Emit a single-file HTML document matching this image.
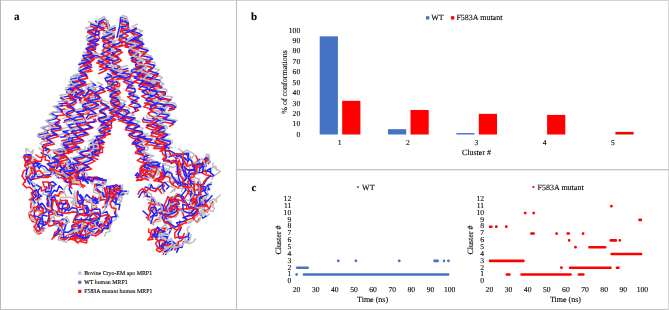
<!DOCTYPE html>
<html><head><meta charset="utf-8"><style>
html,body{margin:0;padding:0;background:#fff;width:669px;height:310px;overflow:hidden}
svg{display:block;filter:blur(0.3px)}
text{font-family:'Liberation Serif',serif;fill:#000;stroke:#000;stroke-width:0.1px;text-rendering:geometricPrecision}
</style></head><body>
<svg width="669" height="310" viewBox="0 0 669 310">
<rect width="669" height="310" fill="#fff"/>
<g fill="none" stroke-width="1.5" stroke-linejoin="round" stroke-linecap="round">
<path stroke="#bdbdbd" d="M63.2,193.6 L58.2,193.5 L57.4,195.9 L52.1,196.0 L51.5,198.7 L51.1,203.6 L47.9,204.1 L48.5,201.5"/>
<path stroke="#2323ff" d="M62.7,189.2 L59.2,185.8 L56.9,191.5 L54.2,190.3 L51.0,194.9 L52.4,199.1 L47.3,200.2 L49.8,195.7"/>
<path stroke="#ff1a1a" d="M64.1,192.3 L60.2,191.4 L58.5,196.3 L55.1,194.7 L51.0,199.9 L52.1,203.6 L47.0,203.0 L48.8,200.6"/>
<path stroke="#bdbdbd" d="M53.5,235.7 L55.1,231.7 L60.4,231.9 L64.6,230.9 L65.7,225.4 L62.0,226.8 L59.2,229.1 L56.8,233.8"/>
<path stroke="#ff1a1a" d="M52.0,239.2 L53.5,237.0 L58.8,233.9 L61.5,234.8 L62.2,229.8 L58.6,230.0 L54.6,232.8 L54.2,237.2"/>
<path stroke="#2323ff" d="M54.2,235.4 L57.6,232.9 L60.8,229.7 L64.3,229.9 L66.2,223.6 L60.6,224.0 L58.8,227.5 L57.6,230.2"/>
<path stroke="#2323ff" d="M71.6,193.6 L69.1,188.8 L70.7,186.1 L72.0,181.0 L67.9,178.4 L68.2,174.9 L70.6,173.6 L74.6,172.4"/>
<path stroke="#ff1a1a" d="M72.0,188.2 L69.0,186.4 L69.8,183.4 L71.5,177.4 L66.1,177.3 L66.3,172.0 L71.7,170.6 L74.9,168.3"/>
<path stroke="#bdbdbd" d="M66.0,195.7 L63.7,191.4 L65.2,187.3 L67.7,184.2 L65.3,178.9 L63.2,176.5 L68.1,173.3 L72.8,171.7"/>
<path stroke="#ff1a1a" d="M146.3,217.2 L149.3,219.8 L152.4,223.9 L156.1,219.4 L159.2,219.0 L160.0,215.7 L161.7,212.7 L166.5,212.0"/>
<path stroke="#2323ff" d="M143.1,211.1 L146.7,214.2 L150.3,217.6 L152.5,215.5 L156.9,215.7 L157.1,212.1 L159.4,208.9 L164.2,209.0"/>
<path stroke="#bdbdbd" d="M147.6,220.0 L150.0,221.1 L153.4,225.2 L154.3,222.3 L160.5,220.9 L158.6,217.7 L162.3,212.9 L165.4,210.6"/>
<path stroke="#bdbdbd" d="M85.1,225.5 L90.9,228.4 L94.5,231.4 L90.7,230.0 L96.0,228.6 L99.7,227.1 L101.9,223.8 L106.4,222.8"/>
<path stroke="#2323ff" d="M85.7,228.8 L88.1,231.7 L92.2,235.3 L88.0,231.4 L92.7,229.5 L97.9,228.1 L100.7,224.1 L105.0,224.0"/>
<path stroke="#ff1a1a" d="M79.7,228.4 L83.9,229.8 L86.4,233.9 L84.1,230.5 L88.8,230.0 L91.2,227.9 L95.7,225.8 L99.3,225.5"/>
<path stroke="#bdbdbd" d="M77.3,75.3 L70.6,77.2 L72.6,79.9 L78.5,81.5 L72.6,83.7 L68.0,85.3 L74.1,88.6 L76.2,91.3 L68.6,92.7 L68.6,95.8 L75.5,97.7 L72.3,99.8 L65.3,102.3 L69.4,104.4 L73.8,106.7 L67.5,109.1 L64.3,111.5 L71.1,114.1 L70.3,116.3 L62.8,118.4"/>
<path stroke="#ff1a1a" d="M79.6,79.8 L72.8,82.2 L74.7,84.0 L80.9,86.3 L75.4,88.8 L70.2,90.1 L76.4,92.9 L78.1,95.4 L70.8,97.6 L70.2,99.5 L76.7,102.1 L74.1,104.5 L66.7,106.6 L71.6,108.5 L75.5,110.9 L68.7,113.7 L66.0,115.9 L72.1,118.5 L71.6,120.2 L63.9,122.3"/>
<path stroke="#2323ff" d="M78.4,77.4 L70.8,79.4 L73.1,82.1 L78.9,84.7 L73.4,86.4 L68.8,88.1 L74.8,91.3 L76.6,93.1 L69.4,95.4 L69.6,97.7 L76.2,100.0 L73.2,102.7 L66.8,105.2 L71.4,106.7 L75.2,109.9 L68.6,111.4 L66.0,113.9 L72.5,116.4 L71.7,118.3 L64.7,120.5"/>
<path stroke="#2323ff" d="M41.1,152.9 L44.6,154.6 L47.8,155.4 L50.0,158.7 L54.8,158.9 L54.9,163.5 L56.7,168.5 L58.9,165.0"/>
<path stroke="#ff1a1a" d="M35.9,155.0 L39.6,157.5 L45.6,156.6 L45.1,160.0 L49.0,160.8 L50.2,165.3 L52.2,169.4 L54.6,166.5"/>
<path stroke="#bdbdbd" d="M39.2,147.9 L42.3,151.2 L46.2,149.8 L48.0,154.8 L50.4,154.3 L51.1,159.6 L53.9,164.1 L54.4,161.5"/>
<path stroke="#ff1a1a" d="M72.4,177.9 L73.7,173.7 L68.7,176.1 L65.2,173.1 L60.6,174.4 L57.9,173.6 L59.7,174.6 L51.4,174.0 L47.4,175.9 L49.4,176.1 L48.0,177.4 L40.5,177.6 L34.3,179.0 L30.6,179.8 L27.5,176.1 L25.1,181.2 L22.9,184.4 L26.7,187.9 L29.3,186.9 L33.0,190.1 L32.5,194.1 L33.5,196.9 L31.5,201.5 L30.7,207.1 L32.4,210.6 L29.0,213.7 L29.6,217.4 L32.4,221.6 L34.8,221.9 L40.0,222.5 L45.2,221.5"/>
<path stroke="#2323ff" d="M72.5,176.1 L74.5,172.2 L70.6,174.4 L66.0,171.0 L63.0,170.8 L60.7,171.8 L63.3,171.5 L56.6,172.0 L50.9,172.1 L55.1,173.8 L52.3,174.3 L44.6,175.2 L41.3,176.3 L37.3,176.8 L35.6,172.9 L31.7,177.0 L30.2,180.7 L33.4,186.8 L36.1,184.6 L40.8,187.6 L38.1,190.3 L38.4,196.1 L37.0,199.4 L38.8,204.9 L36.9,207.9 L34.3,211.5 L34.5,217.2 L36.7,221.0 L41.3,221.6 L46.0,222.6 L49.3,221.2"/>
<path stroke="#bdbdbd" d="M74.0,177.3 L74.4,173.2 L69.4,173.6 L67.2,171.3 L62.2,171.3 L58.6,172.3 L60.0,171.3 L53.4,171.8 L48.5,169.8 L51.6,171.0 L49.2,172.0 L43.1,172.2 L36.9,175.4 L34.6,176.9 L30.0,170.4 L29.3,174.9 L27.4,178.8 L28.0,182.8 L31.8,181.5 L35.7,184.4 L35.0,188.5 L35.4,193.8 L31.3,197.7 L34.5,202.5 L32.2,208.5 L28.8,212.4 L31.9,215.9 L32.3,218.9 L36.4,223.0 L41.5,223.1 L44.1,221.9"/>
<path stroke="#bdbdbd" d="M209.8,201.6 L205.3,198.1 L203.4,201.3 L199.1,204.1 L197.9,198.5 L201.8,196.1 L200.1,189.6 L199.0,187.2"/>
<path stroke="#2323ff" d="M205.1,201.3 L200.1,197.7 L198.9,201.7 L194.1,201.5 L192.8,198.0 L195.0,194.4 L194.6,190.5 L190.7,188.2"/>
<path stroke="#ff1a1a" d="M204.4,199.5 L201.6,196.8 L198.0,200.8 L194.6,203.0 L191.9,199.2 L193.9,195.0 L194.3,190.4 L188.9,187.1"/>
<path stroke="#bdbdbd" d="M95.7,20.4 L98.3,22.1 L103.6,24.5 L97.5,27.1 L93.6,28.4 L99.2,30.8 L100.0,33.6 L91.4,35.9 L92.5,37.9 L97.9,39.4 L93.5,42.0 L87.7,44.0 L92.9,46.1 L95.3,48.9 L88.3,50.8 L86.5,52.9 L92.5,55.2 L90.0,57.6 L83.2,59.8 L85.5,61.8 L90.0,63.8"/>
<path stroke="#ff1a1a" d="M95.2,25.1 L98.5,27.3 L102.8,29.1 L97.2,31.8 L92.9,33.0 L98.7,35.6 L99.7,38.4 L91.6,40.4 L92.8,42.4 L98.6,44.4 L94.4,46.4 L88.3,48.3 L93.5,50.0 L96.6,53.0 L88.6,55.0 L87.2,57.5 L94.3,59.5 L91.7,61.5 L85.1,63.2 L87.4,65.0 L91.9,67.5"/>
<path stroke="#2323ff" d="M95.5,21.4 L98.2,23.0 L102.6,25.1 L96.2,27.8 L93.0,29.6 L98.9,31.7 L98.9,34.6 L91.0,35.9 L92.3,38.5 L98.7,40.1 L93.7,43.0 L87.7,44.2 L92.4,47.0 L95.5,49.1 L88.5,51.4 L86.9,54.1 L94.1,56.3 L90.8,58.5 L84.2,60.6 L87.6,62.4 L91.5,65.1"/>
<path stroke="#bdbdbd" d="M153.4,160.4 L149.2,163.5 L149.6,165.6 L148.0,169.6 L149.5,167.7 L155.2,168.1 L159.6,170.5 L157.0,175.4"/>
<path stroke="#2323ff" d="M145.4,165.3 L142.4,165.6 L140.4,170.4 L139.8,174.5 L141.1,170.4 L145.5,170.1 L150.3,172.7 L149.0,177.9"/>
<path stroke="#ff1a1a" d="M145.2,164.1 L141.3,166.1 L140.0,168.8 L140.8,175.2 L142.9,170.0 L146.7,171.0 L152.1,175.2 L149.9,177.3"/>
<path stroke="#ff1a1a" d="M59.7,166.4 L62.2,168.7 L60.4,172.5 L63.7,174.1 L65.8,171.9 L65.4,168.4 L64.0,164.9 L62.2,160.7"/>
<path stroke="#2323ff" d="M66.8,160.5 L70.3,164.5 L67.9,167.8 L70.9,168.4 L74.1,167.5 L71.3,164.4 L70.0,160.8 L66.3,156.4"/>
<path stroke="#bdbdbd" d="M60.9,160.4 L65.4,163.1 L61.0,166.3 L64.5,168.7 L68.2,164.4 L67.6,162.8 L66.0,156.2 L60.9,154.7"/>
<path stroke="#2323ff" d="M90.6,67.7 L82.3,69.7 L80.7,71.9 L85.5,72.9 L82.6,75.1 L75.6,76.6 L77.0,79.3 L81.4,81.2 L74.4,82.8 L70.4,84.7 L75.2,86.4 L74.7,88.2 L66.8,90.1 L67.0,92.7 L72.5,95.1 L66.8,96.5 L60.4,97.9 L65.4,100.2 L67.5,103.0 L59.1,104.0"/>
<path stroke="#ff1a1a" d="M92.0,70.9 L84.0,72.8 L82.1,74.9 L87.6,76.7 L85.2,78.8 L77.3,80.4 L79.4,82.4 L83.4,84.2 L75.7,85.7 L72.6,87.8 L77.7,89.9 L76.2,91.3 L68.5,92.9 L68.8,95.3 L73.4,97.0 L67.8,98.6 L62.2,100.3 L66.6,102.7 L69.0,104.8 L60.4,106.2"/>
<path stroke="#bdbdbd" d="M88.5,65.9 L80.0,67.2 L78.2,69.8 L83.2,71.1 L81.0,73.0 L73.2,75.2 L76.2,76.7 L80.2,79.0 L72.3,80.1 L69.0,81.9 L73.4,84.2 L73.7,86.1 L65.7,87.7 L65.6,90.4 L70.6,91.8 L65.6,94.5 L59.9,95.3 L64.1,97.8 L67.0,100.6 L57.9,101.8"/>
<path stroke="#2323ff" d="M99.7,21.5 L107.3,24.0 L106.3,26.6 L100.2,28.2 L104.5,30.6 L110.0,32.5 L104.2,35.4 L101.5,38.4 L108.1,40.5 L109.6,42.2"/>
<path stroke="#ff1a1a" d="M101.5,23.0 L109.0,25.3 L107.3,26.9 L101.6,29.3 L105.8,32.2 L111.6,34.3 L105.9,36.4 L102.8,39.1 L109.8,40.9 L111.6,43.5"/>
<path stroke="#bdbdbd" d="M100.9,18.6 L108.2,20.8 L106.5,22.7 L101.0,25.0 L105.2,27.2 L110.4,29.4 L105.1,31.4 L102.7,33.9 L109.3,36.4 L110.7,38.4"/>
<path stroke="#bdbdbd" d="M198.3,179.3 L198.0,184.0 L199.9,187.6 L201.3,192.7 L196.9,195.3 L197.1,199.6 L203.0,200.0 L206.4,200.6"/>
<path stroke="#ff1a1a" d="M199.9,181.8 L197.7,185.4 L199.3,190.6 L200.7,194.2 L198.0,198.7 L198.0,202.2 L202.8,202.4 L205.5,201.0"/>
<path stroke="#2323ff" d="M198.1,182.0 L197.9,186.4 L198.6,191.2 L199.1,194.5 L196.7,197.9 L194.8,202.6 L200.0,202.5 L202.3,201.6"/>
<path stroke="#bdbdbd" d="M136.9,46.3 L137.4,42.7 L140.0,39.4 L138.7,35.4 L134.3,36.5 L133.2,40.4 L133.5,43.7 L134.4,48.1"/>
<path stroke="#ff1a1a" d="M134.8,52.2 L135.5,47.2 L138.5,44.4 L136.7,39.8 L132.4,40.7 L131.0,44.4 L131.1,48.1 L132.8,52.4"/>
<path stroke="#2323ff" d="M136.2,50.0 L136.9,46.3 L139.1,42.1 L138.1,38.8 L133.8,37.9 L132.5,42.2 L132.2,46.4 L133.7,50.4"/>
<path stroke="#bdbdbd" d="M101.0,139.3 L93.0,140.5 L94.1,142.9 L98.9,144.6 L92.9,146.0 L87.1,148.1 L91.7,151.0 L93.3,153.0 L85.2,154.1 L84.2,156.4 L89.3,158.7 L85.8,160.5 L78.9,162.3 L82.5,164.4 L85.9,166.9 L78.3,167.9"/>
<path stroke="#ff1a1a" d="M104.6,142.6 L96.5,143.4 L97.9,145.8 L103.6,147.5 L97.4,149.3 L91.6,151.1 L96.4,153.8 L98.0,155.1 L90.4,157.2 L89.5,158.4 L95.0,161.1 L90.7,163.2 L84.5,165.5 L88.2,166.9 L91.6,169.1 L84.1,170.7"/>
<path stroke="#2323ff" d="M102.1,140.0 L94.8,140.8 L95.1,143.0 L100.7,145.1 L95.1,146.7 L89.0,148.7 L94.0,151.1 L95.8,153.8 L88.2,155.0 L86.9,156.7 L92.7,159.0 L89.0,161.0 L81.8,163.5 L86.2,165.1 L88.9,166.8 L81.7,169.4"/>
<path stroke="#bdbdbd" d="M167.4,250.9 L170.6,248.4 L173.7,245.8 L173.2,243.3 L178.9,242.7 L177.3,247.1 L181.3,245.0 L176.5,245.3"/>
<path stroke="#2323ff" d="M165.7,254.4 L166.4,252.1 L171.7,249.9 L173.5,246.9 L178.4,247.3 L176.7,252.2 L179.3,247.0 L176.4,248.0"/>
<path stroke="#ff1a1a" d="M163.2,254.2 L165.4,248.6 L169.4,248.0 L170.9,245.4 L174.2,245.5 L175.0,250.0 L176.9,246.0 L172.6,245.8"/>
<path stroke="#ff1a1a" d="M86.9,200.7 L91.9,199.9 L93.0,195.9 L96.4,200.2 L101.3,196.3 L101.5,194.1 L96.9,190.6 L94.4,189.1 L95.0,184.1 L99.7,185.5 L103.6,181.7 L99.3,178.0 L96.6,176.9 L90.6,177.4 L87.1,179.6 L82.6,178.6 L82.2,173.8 L82.3,169.5 L77.9,172.8 L73.8,169.1 L71.1,165.6 L68.6,167.4 L63.5,165.8 L63.4,170.1 L59.2,170.1 L61.1,175.2 L64.3,177.6 L64.2,181.1 L68.6,182.5 L71.4,179.3 L68.5,178.0"/>
<path stroke="#2323ff" d="M88.4,201.8 L93.7,203.4 L95.5,197.6 L98.3,201.3 L102.7,199.2 L105.4,194.8 L101.1,192.5 L96.5,188.3 L96.9,184.1 L101.9,185.4 L105.9,182.2 L102.3,178.8 L97.7,178.0 L92.5,177.9 L89.2,177.0 L83.9,177.2 L84.3,173.0 L84.2,167.8 L79.6,171.5 L77.1,167.6 L73.7,163.9 L69.2,166.3 L66.8,163.5 L64.0,167.8 L60.2,169.8 L61.1,175.3 L66.2,177.7 L65.6,181.8 L69.5,182.6 L74.0,181.1 L69.4,178.0"/>
<path stroke="#bdbdbd" d="M86.0,202.4 L89.4,202.2 L91.5,199.3 L96.7,201.9 L99.7,199.6 L102.4,194.1 L97.9,193.6 L93.3,192.1 L95.3,187.6 L102.3,187.1 L105.6,182.7 L101.9,179.7 L98.6,180.1 L93.8,179.3 L90.6,179.5 L84.9,180.9 L87.2,174.2 L84.9,171.8 L82.4,172.9 L79.8,169.4 L78.3,165.3 L74.7,166.3 L69.2,165.3 L68.1,167.6 L64.3,171.1 L67.1,175.4 L70.4,176.6 L72.2,180.8 L74.7,181.5 L79.5,178.7 L74.4,177.5"/>
<path stroke="#ff1a1a" d="M159.0,166.6 L156.4,171.0 L160.5,172.0 L161.0,174.6 L162.7,177.8 L164.8,175.2 L161.4,173.1 L162.3,167.0"/>
<path stroke="#2323ff" d="M160.1,163.0 L157.2,166.6 L161.8,167.5 L162.7,171.3 L163.3,175.3 L167.6,171.9 L162.7,169.9 L163.5,164.7"/>
<path stroke="#bdbdbd" d="M163.8,165.3 L161.8,168.6 L166.8,168.5 L167.0,172.8 L171.4,177.7 L172.7,174.0 L168.7,170.2 L169.9,166.5"/>
<path stroke="#bdbdbd" d="M92.1,116.3 L92.7,117.9 L84.5,119.8 L83.7,122.1 L88.7,124.5 L85.4,125.6 L76.8,127.6 L80.7,129.8 L83.7,132.0 L76.1,133.4 L73.4,135.3 L79.0,138.0 L76.5,140.1 L68.3,141.7 L70.7,144.2 L74.6,146.1 L68.6,148.1 L62.6,149.9"/>
<path stroke="#ff1a1a" d="M95.4,119.3 L96.1,121.5 L88.3,123.1 L88.1,125.0 L93.1,127.7 L89.3,129.0 L81.5,130.4 L85.9,132.4 L88.7,134.5 L81.3,136.4 L78.0,138.4 L83.8,141.0 L82.2,142.5 L73.7,144.4 L75.7,146.9 L80.4,149.0 L73.6,150.2 L67.5,152.3"/>
<path stroke="#2323ff" d="M94.0,119.3 L94.2,122.0 L86.8,122.6 L85.8,124.3 L91.6,127.3 L87.9,128.4 L80.0,130.4 L84.5,132.3 L87.1,133.5 L79.6,135.1 L76.8,137.3 L82.5,140.0 L80.6,140.9 L72.6,142.8 L74.6,145.1 L79.4,147.2 L73.4,148.1 L67.2,150.8"/>
<path stroke="#ff1a1a" d="M91.4,42.8 L95.9,30.8 L99.0,24.5 L103.3,21.5 L107.7,26.6 L108.9,33.8 L105.5,38.3 L110.0,44.6"/>
<path stroke="#2323ff" d="M92.8,39.9 L97.0,27.8 L100.1,21.3 L104.9,18.8 L108.5,23.7 L109.5,30.8 L106.6,36.2 L111.5,41.4"/>
<path stroke="#bdbdbd" d="M91.6,37.5 L95.4,26.1 L99.2,19.4 L104.0,16.5 L107.7,22.0 L108.9,28.7 L105.9,33.9 L110.2,39.6"/>
<path stroke="#bdbdbd" d="M111.5,112.3 L114.9,115.1 L108.0,115.9 L104.6,118.9 L111.0,121.1 L110.5,123.7 L101.9,124.1 L103.7,127.3 L108.7,129.4 L103.6,131.2 L98.1,132.6"/>
<path stroke="#2323ff" d="M111.1,113.5 L115.3,115.8 L108.4,117.5 L105.2,119.8 L111.9,121.7 L110.9,124.9 L102.9,126.1 L105.4,128.5 L110.5,130.7 L105.3,133.1 L100.3,134.3"/>
<path stroke="#ff1a1a" d="M112.0,117.5 L115.9,119.7 L109.2,121.7 L105.7,123.1 L111.6,125.8 L111.5,128.1 L103.8,129.1 L105.2,132.2 L110.6,134.0 L105.7,135.4 L100.3,137.8"/>
<path stroke="#2323ff" d="M96.1,147.2 L92.5,145.3 L89.8,148.9 L92.0,152.6 L96.2,152.0 L96.1,147.7 L93.9,143.6 L95.5,139.4"/>
<path stroke="#ff1a1a" d="M98.4,149.0 L95.0,148.3 L92.9,151.7 L95.0,154.7 L99.0,153.9 L98.4,149.7 L97.0,146.3 L98.3,141.9"/>
<path stroke="#bdbdbd" d="M94.0,146.3 L90.7,144.5 L88.8,147.9 L90.6,151.3 L94.4,150.5 L93.9,146.4 L91.9,142.5 L93.0,138.2"/>
<path stroke="#bdbdbd" d="M60.1,199.1 L62.5,203.4 L59.3,203.6 L58.7,208.5 L57.3,212.6 L54.4,210.5 L51.0,209.1 L46.0,211.0"/>
<path stroke="#2323ff" d="M65.8,200.2 L66.0,203.6 L62.8,205.1 L61.5,211.8 L62.7,215.8 L58.3,214.5 L52.9,212.1 L49.5,211.9"/>
<path stroke="#ff1a1a" d="M60.5,199.7 L61.6,203.8 L58.7,203.8 L59.1,209.3 L57.6,212.5 L55.5,211.2 L50.3,211.4 L46.7,208.8"/>
<path stroke="#2323ff" d="M163.0,246.8 L169.3,244.9 L172.7,246.7 L177.0,246.6 L182.0,247.5 L183.5,241.7 L187.1,242.6 L189.1,237.5"/>
<path stroke="#ff1a1a" d="M162.4,243.9 L165.5,243.8 L169.5,247.0 L172.2,245.8 L177.7,245.8 L178.3,241.7 L181.1,240.8 L183.0,238.7"/>
<path stroke="#bdbdbd" d="M165.4,247.4 L170.6,245.0 L175.5,246.9 L178.7,246.8 L182.4,245.6 L184.6,241.1 L189.5,241.1 L191.1,234.7"/>
<path stroke="#ff1a1a" d="M80.4,202.8 L84.8,199.3 L89.6,202.3 L93.9,203.4 L96.8,207.7 L92.1,209.6 L91.8,205.1 L96.6,205.4"/>
<path stroke="#2323ff" d="M84.7,197.7 L86.7,194.6 L90.0,197.9 L93.6,199.1 L98.2,203.1 L93.2,203.4 L92.9,198.9 L97.5,201.3"/>
<path stroke="#bdbdbd" d="M81.5,197.9 L83.9,197.4 L86.8,199.8 L93.4,203.6 L96.6,206.4 L92.2,207.8 L92.1,203.3 L95.9,206.2"/>
<path stroke="#bdbdbd" d="M72.5,230.0 L74.6,234.8 L78.1,237.4 L81.5,238.2 L77.0,237.6 L75.1,233.3 L78.7,230.3 L81.8,227.9"/>
<path stroke="#ff1a1a" d="M67.0,235.8 L71.0,239.1 L74.6,240.4 L78.5,242.9 L74.3,240.2 L74.0,237.6 L76.0,234.4 L80.9,232.6"/>
<path stroke="#2323ff" d="M73.7,233.0 L77.8,236.2 L82.6,238.2 L85.1,240.5 L80.8,237.1 L80.1,232.8 L82.7,229.5 L86.8,226.5"/>
<path stroke="#bdbdbd" d="M75.8,234.8 L74.6,230.5 L74.7,227.1 L77.5,224.8 L82.3,226.9 L84.0,228.7 L79.1,233.9 L77.8,235.4 L79.6,240.4 L83.8,238.4 L88.2,237.3 L88.5,232.4 L88.8,228.8 L92.8,231.3 L98.2,234.7 L99.7,230.7 L100.0,227.6 L103.2,225.3 L108.6,228.6 L110.1,226.7 L108.4,223.3 L104.9,220.6 L108.1,219.5 L106.5,214.6 L100.8,216.3 L99.0,212.3 L94.6,211.9 L89.0,212.2 L88.2,210.1 L82.8,210.1 L84.0,204.6"/>
<path stroke="#2323ff" d="M73.7,234.1 L72.3,229.7 L71.8,225.7 L75.7,223.5 L79.2,225.3 L81.5,229.1 L78.6,231.9 L75.0,235.4 L77.7,238.2 L82.5,237.9 L85.5,237.6 L85.7,232.5 L86.9,228.1 L90.8,230.8 L95.6,233.8 L98.6,230.0 L99.5,224.6 L103.0,224.8 L107.4,226.3 L110.4,223.9 L109.8,220.0 L105.2,218.7 L108.8,216.2 L106.7,211.6 L100.5,214.0 L99.7,209.3 L94.9,209.3 L89.5,210.9 L86.9,205.6 L83.1,206.0 L82.1,201.5"/>
<path stroke="#ff1a1a" d="M73.2,237.6 L71.7,232.7 L72.7,227.1 L76.5,226.1 L80.9,227.5 L81.4,231.6 L79.9,234.6 L75.1,238.5 L77.1,242.7 L82.6,239.8 L86.2,240.1 L87.1,235.6 L89.5,232.4 L91.5,234.2 L95.6,236.2 L100.2,233.0 L99.0,229.1 L102.2,226.2 L107.4,229.0 L109.9,227.0 L108.8,222.1 L104.7,222.0 L108.3,218.4 L106.8,214.7 L101.0,216.4 L98.5,212.9 L93.4,213.3 L90.4,210.9 L86.1,207.5 L83.0,207.7 L83.0,204.0"/>
<path stroke="#bdbdbd" d="M177.5,247.2 L173.6,247.9 L170.2,246.2 L166.2,249.1 L163.7,246.2 L161.4,251.9 L166.0,253.4 L170.3,250.1"/>
<path stroke="#2323ff" d="M176.1,244.5 L172.5,241.2 L168.6,241.6 L166.5,244.9 L162.4,243.1 L163.7,248.5 L165.1,251.6 L169.4,248.3"/>
<path stroke="#ff1a1a" d="M170.7,247.4 L168.8,246.3 L162.5,243.7 L162.2,248.7 L158.0,247.2 L156.3,250.2 L159.9,252.0 L163.7,249.1"/>
<path stroke="#bdbdbd" d="M90.5,80.8 L93.4,83.1 L85.9,85.0 L85.3,86.9 L91.7,89.5 L89.0,91.8 L82.2,93.9 L85.4,96.5 L89.6,98.2 L83.4,100.9 L79.5,103.1 L86.5,105.2 L86.1,107.9 L78.3,109.6"/>
<path stroke="#2323ff" d="M93.0,83.8 L95.8,85.1 L88.1,87.4 L87.4,88.8 L93.5,91.9 L90.8,93.8 L84.4,95.9 L88.0,98.6 L92.1,100.8 L86.3,102.5 L82.8,105.3 L88.6,106.7 L88.6,109.6 L81.7,111.6"/>
<path stroke="#ff1a1a" d="M93.4,87.4 L95.8,89.8 L88.3,91.2 L87.4,93.4 L94.1,96.0 L91.4,98.1 L84.2,99.8 L87.9,101.9 L93.0,104.7 L86.2,106.8 L82.9,109.1 L89.0,110.7 L88.9,113.5 L80.7,115.2"/>
<path stroke="#bdbdbd" d="M90.5,95.7 L85.3,97.0 L89.6,99.0 L90.6,101.0 L82.0,103.0 L81.5,104.2 L86.7,106.8 L82.0,108.4 L75.5,109.7 L78.6,111.9 L81.2,113.6 L73.6,115.4 L70.9,117.1 L76.4,118.6 L74.2,120.7 L66.0,122.1 L67.0,124.7 L71.4,126.1 L65.2,128.0 L60.3,129.1 L64.7,131.7 L65.2,133.6 L57.1,135.5"/>
<path stroke="#ff1a1a" d="M91.7,100.1 L86.7,101.2 L91.9,103.2 L92.7,105.2 L84.5,107.3 L84.4,108.5 L89.1,111.0 L84.8,113.4 L77.7,114.6 L82.2,116.0 L84.8,118.8 L76.8,120.1 L74.2,122.2 L80.3,124.4 L77.7,126.5 L70.1,127.9 L72.1,130.4 L76.1,132.1 L70.0,133.7 L64.5,135.4 L69.7,137.5 L70.1,139.3 L61.7,140.8"/>
<path stroke="#2323ff" d="M91.1,97.9 L85.3,98.8 L90.4,100.9 L91.1,102.9 L83.3,104.5 L82.5,106.5 L87.6,108.4 L83.7,110.7 L76.3,112.0 L80.3,113.9 L83.1,116.4 L75.4,117.3 L72.6,119.2 L78.2,121.6 L77.0,123.2 L68.2,124.9 L70.0,127.3 L74.4,128.8 L68.4,130.6 L62.9,131.7 L68.4,133.5 L69.2,136.3 L60.6,137.2"/>
<path stroke="#ff1a1a" d="M167.7,216.2 L164.5,212.3 L168.0,209.3 L172.5,208.7 L173.1,203.3 L176.3,203.7 L175.5,208.4 L170.8,211.1"/>
<path stroke="#2323ff" d="M167.1,216.1 L165.3,213.7 L167.2,209.3 L170.1,207.7 L171.7,204.8 L175.5,206.8 L174.2,209.6 L169.3,212.1"/>
<path stroke="#bdbdbd" d="M168.8,222.5 L166.6,218.4 L168.3,214.9 L173.7,213.7 L175.2,211.1 L179.1,209.1 L177.7,215.0 L175.3,217.7"/>
<path stroke="#bdbdbd" d="M211.8,182.1 L208.3,184.2 L208.9,189.0 L203.5,188.8 L197.9,191.0 L197.7,186.9 L200.2,183.4 L202.5,187.9"/>
<path stroke="#ff1a1a" d="M204.3,183.8 L199.7,185.6 L202.3,189.4 L196.5,189.7 L193.3,191.9 L194.0,187.1 L195.3,183.1 L198.4,186.3"/>
<path stroke="#2323ff" d="M211.3,184.3 L207.1,185.4 L209.6,189.6 L204.3,190.2 L200.1,192.1 L199.5,187.6 L199.3,183.4 L203.7,188.7"/>
<path stroke="#bdbdbd" d="M121.2,36.6 L119.8,39.5 L113.0,41.1 L115.4,43.3 L121.6,45.7 L116.2,48.4 L111.9,50.3 L118.2,52.9 L120.0,54.8 L112.2,57.6 L113.2,59.0 L119.7,61.5 L116.7,64.4 L110.9,66.8 L116.1,68.7 L120.1,71.6 L113.8,73.2 L111.7,75.5 L118.1,78.1 L118.0,80.8 L110.7,83.2 L113.6,85.1 L119.3,87.6 L114.0,89.8 L109.8,92.8 L116.3,95.4 L118.9,97.3 L111.0,99.2 L112.1,101.5 L118.9,104.4 L115.3,106.5 L109.4,108.7 L114.5,111.1 L119.2,113.5"/>
<path stroke="#2323ff" d="M120.8,40.4 L119.1,43.2 L112.8,45.4 L115.1,48.2 L120.8,50.2 L115.5,52.1 L111.5,54.6 L117.9,57.0 L119.5,58.9 L112.4,62.3 L113.2,64.1 L120.0,66.7 L116.6,68.8 L110.3,70.5 L116.0,73.2 L119.8,75.7 L113.6,77.5 L111.2,79.6 L117.8,82.3 L117.4,84.7 L110.9,86.9 L113.7,88.5 L119.6,90.9 L113.7,92.5 L110.2,94.8 L116.2,98.0 L118.6,99.5 L110.3,101.3 L112.1,103.4 L118.6,106.5 L115.2,108.5 L109.0,110.3 L114.9,112.5 L118.5,114.9"/>
<path stroke="#ff1a1a" d="M122.4,43.0 L121.5,45.3 L114.3,47.5 L116.8,50.3 L122.5,52.4 L117.8,54.7 L114.1,56.6 L120.1,59.2 L121.1,60.7 L114.1,63.8 L114.6,65.7 L121.7,68.0 L118.6,70.4 L112.2,72.9 L117.3,75.6 L122.0,77.9 L114.8,79.8 L113.3,81.6 L119.7,83.4 L119.5,86.1 L112.1,88.3 L115.1,90.2 L120.7,92.6 L114.8,94.6 L111.5,96.7 L117.2,99.8 L119.5,101.2 L110.7,103.2 L112.1,105.3 L118.4,107.9 L115.5,110.5 L109.8,113.0 L114.9,115.0 L118.6,117.8"/>
<path stroke="#bdbdbd" d="M118.1,36.2 L120.3,23.3 L122.2,15.4 L126.8,16.8 L127.8,24.3 L122.6,28.8 L129.1,27.5 L135.5,33.6 L137.5,42.7"/>
<path stroke="#ff1a1a" d="M119.1,39.7 L121.7,26.5 L122.2,19.2 L127.2,20.5 L128.3,27.7 L123.4,32.8 L130.1,31.7 L136.3,37.3 L138.1,47.0"/>
<path stroke="#2323ff" d="M116.9,37.5 L120.0,25.1 L120.5,17.5 L125.7,18.7 L126.6,25.4 L122.3,30.9 L128.6,29.5 L135.0,35.0 L136.6,45.3"/>
<path stroke="#bdbdbd" d="M153.2,178.7 L148.8,177.5 L144.9,179.2 L141.7,178.8 L146.2,176.9 L142.4,174.8 L142.0,178.6 L146.7,180.1"/>
<path stroke="#2323ff" d="M147.8,177.3 L144.1,175.3 L139.9,176.9 L136.3,177.6 L139.2,175.3 L137.5,172.9 L135.3,175.2 L139.2,175.9"/>
<path stroke="#ff1a1a" d="M148.7,180.1 L144.1,178.3 L141.9,180.2 L137.9,180.0 L142.3,179.2 L139.9,174.7 L136.7,180.7 L141.3,179.6"/>
<path stroke="#bdbdbd" d="M76.7,94.5 L79.9,90.8 L83.5,93.3 L85.4,89.9 L88.4,86.1 L92.6,87.2 L94.9,90.8 L93.3,94.7"/>
<path stroke="#2323ff" d="M78.3,96.8 L81.2,94.1 L84.8,96.3 L87.1,92.9 L89.7,89.8 L93.9,89.8 L96.0,93.3 L95.1,97.9"/>
<path stroke="#ff1a1a" d="M80.2,99.8 L83.0,97.0 L86.4,99.4 L89.0,96.4 L91.6,93.2 L95.7,93.0 L97.9,97.0 L96.5,101.6"/>
<path stroke="#bdbdbd" d="M175.0,208.5 L174.2,211.1 L172.8,217.1 L168.1,213.8 L165.6,216.8 L161.2,218.4 L165.3,220.7 L170.0,217.2"/>
<path stroke="#2323ff" d="M177.1,202.3 L174.8,206.9 L174.7,212.7 L171.6,211.6 L168.1,214.7 L163.9,216.1 L166.6,218.9 L172.3,216.8"/>
<path stroke="#ff1a1a" d="M170.5,202.2 L171.1,206.7 L171.6,210.6 L165.9,209.9 L162.1,211.4 L159.7,213.8 L163.0,214.7 L167.4,213.8"/>
<path stroke="#bdbdbd" d="M177.5,209.5 L175.8,204.9 L172.3,201.1 L169.3,205.3 L167.6,208.6 L168.6,213.2 L171.5,216.0 L167.3,219.4"/>
<path stroke="#2323ff" d="M174.5,206.4 L173.8,201.6 L169.2,199.1 L168.6,203.4 L166.1,207.3 L166.6,210.9 L168.9,213.8 L166.4,216.8"/>
<path stroke="#ff1a1a" d="M172.9,204.3 L170.6,199.4 L167.9,196.5 L166.5,200.4 L164.4,205.0 L165.3,207.6 L166.7,212.7 L164.2,214.9"/>
<path stroke="#ff1a1a" d="M64.9,108.9 L57.9,110.2 L62.5,112.7 L64.7,114.9 L56.5,115.7 L53.8,117.4 L60.3,120.2 L57.6,122.0 L49.6,124.2 L51.8,126.0 L56.3,128.3 L49.6,129.9 L45.1,131.3 L49.5,134.1 L50.6,135.3 L42.3,137.0 L41.8,138.9 L47.2,141.3"/>
<path stroke="#2323ff" d="M62.4,105.3 L55.5,106.4 L60.0,108.9 L62.4,111.2 L54.0,112.2 L51.4,113.8 L57.3,116.4 L55.0,118.9 L46.7,120.8 L48.8,122.5 L53.1,124.6 L46.4,126.6 L41.7,127.7 L46.4,130.3 L47.7,132.7 L38.7,134.9 L38.3,136.5 L44.0,138.2"/>
<path stroke="#bdbdbd" d="M60.3,104.8 L53.0,106.4 L57.0,108.6 L59.9,111.3 L51.9,112.3 L49.1,114.3 L55.2,116.7 L53.4,118.4 L45.7,120.6 L47.6,122.2 L52.3,124.3 L45.4,126.5 L40.8,127.7 L45.9,130.7 L46.7,131.9 L38.2,133.5 L37.6,135.6 L43.0,137.9"/>
<path stroke="#bdbdbd" d="M163.2,239.7 L168.0,241.5 L164.4,244.7 L164.3,247.4 L169.9,247.0 L168.6,244.7 L173.1,245.7 L176.0,244.4"/>
<path stroke="#ff1a1a" d="M155.9,237.7 L158.1,240.8 L155.6,243.3 L158.2,248.4 L161.5,247.9 L162.4,243.6 L167.0,245.1 L171.3,244.4"/>
<path stroke="#2323ff" d="M159.1,235.9 L162.3,238.1 L159.0,240.8 L159.6,246.3 L164.5,244.5 L164.4,241.2 L167.8,242.6 L172.7,244.6"/>
<path stroke="#bdbdbd" d="M129.4,113.2 L125.2,115.6 L129.0,116.7 L135.4,119.0 L130.3,120.8 L128.0,123.2 L135.4,125.1 L137.5,127.1 L130.9,129.8 L133.5,131.5 L141.1,133.6 L137.8,135.8 L134.2,138.7 L141.1,140.1 L144.4,142.0 L138.7,144.7 L139.5,147.3"/>
<path stroke="#ff1a1a" d="M125.7,119.3 L121.1,121.3 L125.9,122.8 L131.7,124.7 L127.4,127.0 L125.3,129.8 L133.2,131.3 L134.4,133.3 L128.5,135.3 L131.9,137.8 L139.3,140.3 L135.3,142.0 L132.0,144.0 L138.9,145.2 L142.6,147.7 L137.1,150.2 L137.3,152.5"/>
<path stroke="#2323ff" d="M127.2,116.9 L122.2,119.8 L127.2,120.9 L133.0,122.8 L127.8,125.8 L126.2,127.6 L134.0,129.5 L135.7,131.9 L129.4,133.8 L132.6,135.9 L140.3,137.2 L136.2,139.4 L132.8,142.7 L140.0,143.8 L143.5,145.9 L138.0,148.6 L138.3,150.3"/>
<path stroke="#ff1a1a" d="M148.5,203.0 L151.8,203.2 L156.5,204.5 L161.1,205.8 L161.5,210.0 L160.9,213.5 L157.5,212.6 L152.9,209.6"/>
<path stroke="#2323ff" d="M151.2,202.3 L154.3,201.7 L159.8,203.9 L162.8,205.0 L163.8,210.0 L163.5,213.8 L158.1,211.8 L155.6,209.1"/>
<path stroke="#bdbdbd" d="M147.3,199.2 L152.5,201.7 L154.8,202.3 L159.5,202.6 L162.3,209.0 L160.5,211.6 L155.6,211.5 L152.0,208.6"/>
<path stroke="#bdbdbd" d="M71.1,236.0 L75.1,234.0 L77.6,231.5 L78.6,235.8 L81.3,234.7 L82.9,238.5 L87.8,238.2 L88.7,236.0"/>
<path stroke="#2323ff" d="M70.3,237.3 L74.7,235.2 L76.2,232.7 L78.1,236.2 L83.5,235.1 L82.6,238.7 L87.4,237.4 L90.1,235.0"/>
<path stroke="#ff1a1a" d="M68.0,240.1 L72.7,238.6 L74.7,235.9 L75.6,239.1 L81.1,237.8 L80.4,241.6 L86.6,242.9 L87.0,239.8"/>
<path stroke="#bdbdbd" d="M180.7,176.7 L187.3,179.0 L187.3,183.4 L188.3,186.5 L186.3,188.6 L179.7,188.2 L176.5,186.6 L174.1,191.3"/>
<path stroke="#ff1a1a" d="M176.0,171.8 L179.6,171.6 L181.7,177.8 L185.3,180.3 L181.0,183.0 L176.6,183.3 L174.7,181.2 L172.9,184.9"/>
<path stroke="#2323ff" d="M180.9,170.8 L183.4,170.2 L184.4,174.8 L186.6,178.2 L182.4,182.3 L178.0,182.6 L173.9,179.7 L171.9,184.8"/>
<path stroke="#2323ff" d="M116.5,196.1 L119.6,195.0 L119.5,191.2 L120.0,185.3 L120.2,191.2 L121.1,194.0 L117.7,196.0 L113.8,196.0"/>
<path stroke="#ff1a1a" d="M112.2,197.5 L117.0,197.9 L117.3,191.8 L118.5,188.5 L116.8,192.7 L118.4,197.8 L113.0,199.6 L109.4,201.7"/>
<path stroke="#bdbdbd" d="M116.4,193.2 L122.1,194.0 L122.4,190.5 L122.5,184.8 L119.5,190.6 L120.9,195.8 L117.4,198.4 L111.3,199.0"/>
<path stroke="#bdbdbd" d="M45.5,228.8 L39.7,230.3 L39.1,225.8 L36.2,221.2 L40.2,221.8 L37.7,218.2 L39.2,213.9 L41.2,217.2"/>
<path stroke="#ff1a1a" d="M41.3,233.1 L37.9,234.0 L36.3,230.5 L35.0,226.7 L37.3,227.0 L36.5,222.8 L37.4,218.9 L40.6,219.6"/>
<path stroke="#2323ff" d="M43.3,230.3 L39.8,231.5 L39.5,228.0 L38.1,223.0 L43.4,224.4 L42.2,217.8 L42.1,215.0 L47.0,216.1"/>
<path stroke="#bdbdbd" d="M148.5,177.5 L151.5,173.0 L154.6,177.1 L155.7,179.8 L160.2,177.4 L159.0,173.5 L156.2,168.3 L162.0,167.7"/>
<path stroke="#2323ff" d="M144.8,175.2 L146.6,170.8 L148.8,173.6 L153.3,177.2 L155.9,172.9 L153.5,168.7 L154.0,164.2 L157.7,164.8"/>
<path stroke="#ff1a1a" d="M144.2,174.5 L147.3,169.9 L148.7,173.7 L153.2,177.9 L154.8,173.2 L153.7,169.6 L151.2,166.4 L154.8,166.2"/>
<path stroke="#ff1a1a" d="M160.9,228.7 L165.3,227.9 L163.9,231.4 L159.6,231.2 L154.6,229.1 L152.9,234.4 L148.7,232.1 L148.9,228.9"/>
<path stroke="#2323ff" d="M167.3,229.8 L171.7,227.8 L168.9,234.0 L166.5,234.6 L162.1,232.0 L159.4,234.7 L155.5,233.8 L154.8,230.5"/>
<path stroke="#bdbdbd" d="M165.3,234.1 L168.7,233.4 L168.3,237.6 L162.2,237.9 L158.8,234.3 L158.1,238.5 L155.3,237.0 L153.1,231.9"/>
<path stroke="#bdbdbd" d="M143.1,43.0 L137.6,45.0 L140.0,47.5 L147.4,48.3 L145.3,50.9 L140.7,53.1 L148.0,54.9 L151.9,56.3 L146.5,58.6 L146.9,60.9 L154.9,62.6 L154.3,64.5 L148.5,66.8 L153.7,68.3 L159.5,69.9 L154.5,72.9 L153.6,75.0 L160.9,76.6 L162.3,77.9 L156.8,81.3"/>
<path stroke="#2323ff" d="M143.9,44.3 L138.2,46.4 L141.0,48.5 L148.3,50.4 L145.8,52.4 L141.5,55.5 L149.0,57.2 L152.6,59.0 L146.1,61.3 L146.7,63.3 L154.9,65.4 L153.5,67.3 L148.2,70.5 L152.7,72.0 L158.4,73.8 L153.3,76.0 L151.7,78.5 L159.2,80.2 L160.9,82.0 L155.3,84.4"/>
<path stroke="#ff1a1a" d="M142.4,46.6 L136.7,48.5 L139.7,51.2 L146.3,52.5 L143.3,54.9 L139.6,58.1 L146.5,59.9 L150.4,61.5 L144.4,64.0 L144.4,65.6 L152.3,67.6 L151.8,69.6 L146.1,72.8 L151.2,73.7 L157.8,75.9 L152.4,78.8 L150.8,81.1 L158.7,82.8 L159.5,85.1 L154.7,86.9"/>
<path stroke="#bdbdbd" d="M94.6,232.5 L91.6,233.9 L86.0,234.6 L87.1,228.4 L88.8,224.2 L94.3,223.7 L93.0,220.6 L96.4,214.7"/>
<path stroke="#ff1a1a" d="M89.1,233.5 L85.1,234.4 L80.9,235.2 L80.4,231.3 L83.3,226.0 L87.1,225.4 L88.6,222.3 L90.3,217.9"/>
<path stroke="#2323ff" d="M88.8,237.4 L84.6,238.2 L79.5,236.1 L81.4,232.7 L83.6,228.0 L87.0,227.6 L88.9,221.9 L89.9,218.2"/>
<path stroke="#bdbdbd" d="M181.4,191.5 L183.4,186.7 L186.2,189.7 L190.3,190.1 L189.6,193.1 L194.2,196.5 L194.9,199.6 L199.3,197.1"/>
<path stroke="#2323ff" d="M177.7,184.7 L179.0,183.0 L184.0,183.8 L187.7,184.5 L187.0,190.5 L191.3,191.9 L193.5,195.1 L197.1,194.7"/>
<path stroke="#ff1a1a" d="M178.0,188.5 L179.6,185.4 L184.1,185.7 L187.3,188.0 L188.6,193.9 L192.8,195.1 L193.7,199.5 L197.8,199.2"/>
<path stroke="#bdbdbd" d="M201.7,159.3 L205.1,159.7 L205.5,157.7 L206.6,154.0 L209.6,157.0 L208.6,154.3 L205.1,157.5 L205.1,161.1"/>
<path stroke="#2323ff" d="M197.2,161.0 L201.6,165.4 L203.7,160.5 L206.0,157.7 L209.8,162.1 L208.3,157.5 L203.7,160.6 L206.2,166.2"/>
<path stroke="#ff1a1a" d="M197.1,165.4 L200.4,168.3 L204.1,163.8 L206.6,161.2 L208.6,163.7 L206.8,158.8 L203.2,162.9 L202.5,165.7"/>
<path stroke="#bdbdbd" d="M113.4,50.0 L111.5,53.6 L108.1,56.3 L104.2,54.4 L100.1,54.8 L96.4,53.3 L91.8,53.2 L88.8,56.1"/>
<path stroke="#2323ff" d="M113.4,52.5 L111.7,56.4 L108.2,58.7 L104.9,57.2 L100.6,57.2 L96.5,55.5 L92.5,56.0 L89.3,59.1"/>
<path stroke="#ff1a1a" d="M115.0,53.7 L113.2,57.5 L110.0,60.1 L106.4,58.9 L102.0,59.0 L97.9,57.6 L93.8,58.1 L91.1,60.8"/>
<path stroke="#bdbdbd" d="M127.2,65.5 L120.8,67.5 L122.5,69.7 L130.4,72.2 L127.7,74.1 L122.4,76.0 L128.4,78.9 L132.5,80.4 L126.6,82.9 L126.7,84.7 L134.2,86.4 L133.7,88.7 L127.9,91.4 L131.5,93.7 L137.4,95.4 L133.4,97.1 L130.0,99.8 L136.9,102.1 L139.7,104.3 L133.9,106.4 L135.4,109.1"/>
<path stroke="#ff1a1a" d="M128.1,70.5 L122.2,72.9 L123.4,74.6 L130.8,77.1 L128.6,79.3 L123.4,81.9 L128.9,84.0 L132.7,85.7 L127.0,88.5 L125.9,90.4 L133.7,92.8 L133.9,95.2 L127.5,96.7 L130.8,99.1 L137.2,101.3 L132.5,103.5 L128.9,105.6 L136.6,108.5 L138.7,110.4 L132.3,112.6 L133.5,115.4"/>
<path stroke="#2323ff" d="M127.9,68.4 L121.8,70.2 L124.5,73.0 L131.4,74.8 L128.8,76.9 L123.7,79.5 L129.1,81.5 L133.8,82.9 L128.7,85.5 L127.3,87.5 L134.9,88.8 L135.2,91.8 L128.8,93.8 L133.0,96.0 L139.1,97.8 L134.3,100.3 L131.1,102.1 L138.5,104.4 L141.0,106.7 L134.3,107.8 L136.0,111.1"/>
<path stroke="#ff1a1a" d="M204.8,211.4 L208.9,208.9 L207.2,212.2 L202.8,208.1 L206.8,204.8 L209.1,209.6 L211.2,204.1 L212.9,201.6"/>
<path stroke="#2323ff" d="M202.3,205.3 L205.5,202.9 L203.5,206.5 L201.9,202.5 L204.3,199.1 L206.6,201.7 L210.2,198.0 L211.9,195.7"/>
<path stroke="#bdbdbd" d="M211.4,205.3 L213.9,202.9 L212.8,207.2 L209.1,201.9 L214.0,198.8 L216.6,201.9 L216.1,198.7 L220.2,195.0"/>
<path stroke="#bdbdbd" d="M206.6,198.0 L203.3,198.8 L200.3,202.3 L201.2,204.4 L202.1,209.2 L201.8,212.3 L206.5,216.4 L209.3,213.9"/>
<path stroke="#ff1a1a" d="M197.6,203.4 L192.2,203.0 L190.6,207.8 L188.8,211.9 L192.0,213.3 L192.7,218.2 L197.3,222.1 L199.4,218.4"/>
<path stroke="#2323ff" d="M201.0,197.1 L198.3,197.3 L195.6,201.9 L196.2,206.0 L197.0,210.1 L200.1,213.4 L202.8,218.1 L206.2,216.2"/>
<path stroke="#bdbdbd" d="M105.8,184.2 L102.3,184.7 L98.3,181.5 L94.7,179.5 L92.4,184.3 L90.1,181.4 L84.4,179.3 L80.8,180.4"/>
<path stroke="#ff1a1a" d="M106.1,180.4 L101.0,180.1 L96.3,179.2 L92.2,177.9 L91.2,181.3 L88.1,178.4 L83.8,178.0 L80.0,179.4"/>
<path stroke="#2323ff" d="M106.3,180.1 L102.0,180.2 L97.0,178.3 L94.5,177.9 L92.2,181.7 L89.8,179.9 L85.0,179.1 L82.6,181.0"/>
<path stroke="#bdbdbd" d="M199.7,168.6 L195.2,166.8 L192.5,166.9 L188.9,164.0 L189.6,168.8 L193.6,175.1 L195.7,178.3 L199.5,178.9 L199.4,185.0 L199.5,188.8 L200.8,193.6 L197.9,198.3 L199.0,204.3 L198.3,208.0 L193.2,210.3 L188.9,210.1 L189.2,215.1 L194.4,216.7 L197.2,217.0 L198.3,213.1 L203.2,209.0 L204.3,205.6 L202.8,201.6 L204.8,197.7 L208.6,195.1 L207.0,190.6 L205.4,186.8 L200.8,186.3"/>
<path stroke="#ff1a1a" d="M196.8,173.1 L194.4,170.1 L188.9,170.6 L184.8,167.7 L185.5,172.7 L188.1,176.8 L189.7,181.2 L194.1,181.7 L193.8,185.4 L194.3,189.3 L193.4,195.2 L191.4,200.4 L193.0,203.9 L189.8,207.9 L185.7,208.9 L180.2,208.9 L182.6,212.6 L184.2,217.2 L188.7,215.5 L192.1,211.7 L194.0,207.5 L195.9,203.0 L195.0,199.2 L198.4,194.8 L200.7,194.7 L200.5,188.5 L200.5,184.4 L198.0,184.9"/>
<path stroke="#2323ff" d="M194.5,170.5 L189.8,170.0 L186.2,169.5 L183.2,164.4 L182.7,170.0 L185.6,172.0 L186.4,175.8 L191.3,177.6 L190.4,182.8 L191.3,185.8 L192.1,190.4 L190.5,194.9 L191.0,199.5 L189.3,204.6 L185.9,205.3 L182.7,204.3 L183.3,211.0 L187.7,212.8 L190.4,213.0 L193.9,209.6 L196.8,206.0 L200.0,203.9 L199.7,198.2 L200.9,197.0 L207.1,194.6 L204.4,191.3 L206.1,187.1 L201.0,185.9"/>
<path stroke="#ff1a1a" d="M49.5,195.3 L46.8,198.7 L48.4,200.7 L47.2,206.2 L50.2,206.9 L52.6,210.1 L55.7,215.2 L59.1,216.1"/>
<path stroke="#2323ff" d="M50.7,192.7 L47.1,195.6 L48.5,200.9 L47.0,204.5 L50.1,205.6 L53.2,210.5 L56.1,213.2 L59.1,215.3"/>
<path stroke="#bdbdbd" d="M52.2,196.8 L48.6,198.5 L50.5,201.9 L50.0,208.0 L52.5,209.9 L55.1,212.1 L56.7,215.8 L59.5,215.9"/>
<path stroke="#bdbdbd" d="M212.9,163.3 L213.0,167.5 L208.3,169.7 L207.9,171.2 L202.7,170.0 L204.6,164.7 L209.7,160.6 L208.7,156.0"/>
<path stroke="#ff1a1a" d="M204.0,160.8 L202.5,163.5 L198.8,166.2 L196.9,168.4 L193.5,167.4 L193.1,163.5 L198.6,161.3 L195.8,155.8"/>
<path stroke="#2323ff" d="M205.5,162.0 L204.7,166.4 L200.3,166.9 L199.4,171.0 L193.9,169.5 L196.3,163.8 L199.1,162.3 L199.3,159.3"/>
<path stroke="#bdbdbd" d="M39.3,212.9 L42.6,211.6 L41.5,207.7 L39.7,206.1 L34.9,206.7 L35.0,210.8 L37.3,210.9 L42.1,213.5"/>
<path stroke="#2323ff" d="M43.3,213.8 L46.9,211.3 L44.5,206.3 L42.0,203.2 L37.6,205.9 L38.8,209.2 L40.4,205.8 L43.7,208.9"/>
<path stroke="#ff1a1a" d="M39.2,215.5 L43.8,211.9 L42.7,208.8 L38.8,206.0 L33.6,207.6 L34.8,212.0 L38.0,209.3 L41.7,211.3"/>
<path stroke="#bdbdbd" d="M119.3,99.0 L125.8,101.5 L121.6,104.3 L119.7,105.3 L127.1,107.2 L129.9,108.8 L124.2,111.5 L126.8,112.8 L134.0,114.7 L131.8,115.9 L127.7,119.1 L134.7,120.4 L139.8,121.6 L134.3,124.6 L134.9,126.1 L142.9,128.3 L142.4,129.6 L137.5,132.0 L142.0,133.2 L148.7,135.9"/>
<path stroke="#ff1a1a" d="M116.6,104.6 L123.9,106.3 L119.6,109.0 L117.5,110.6 L125.5,111.3 L127.7,113.8 L122.4,116.7 L124.2,117.3 L132.2,119.3 L130.5,120.8 L126.3,123.7 L133.7,125.1 L138.6,126.9 L132.7,129.4 L133.3,131.4 L141.5,132.3 L142.0,134.7 L136.4,136.4 L141.4,138.4 L148.1,140.6"/>
<path stroke="#2323ff" d="M118.5,102.4 L125.0,104.6 L121.4,107.1 L119.4,108.6 L127.0,110.2 L129.7,112.4 L123.8,115.1 L127.0,116.7 L135.0,118.0 L131.8,120.0 L127.7,122.5 L135.4,123.7 L139.7,126.1 L134.2,128.0 L134.5,130.0 L142.4,131.8 L142.6,133.6 L137.4,136.2 L142.4,137.2 L148.3,139.2"/>
<path stroke="#bdbdbd" d="M216.7,170.0 L215.8,166.3 L213.3,166.9 L217.4,169.6 L220.3,171.4 L216.3,174.3 L212.5,176.8 L212.0,179.2"/>
<path stroke="#2323ff" d="M210.7,173.5 L210.5,168.3 L205.7,171.2 L209.1,171.4 L213.9,175.5 L209.6,176.6 L206.5,179.5 L204.1,183.5"/>
<path stroke="#ff1a1a" d="M206.3,173.4 L205.3,169.9 L201.9,172.9 L205.7,174.9 L210.5,175.5 L206.7,178.1 L204.1,181.7 L202.5,185.0"/>
<path stroke="#2323ff" d="M61.7,225.2 L67.6,222.5 L65.2,218.7 L62.1,219.4 L59.1,222.5 L54.0,225.1 L54.0,221.1 L49.1,220.4"/>
<path stroke="#ff1a1a" d="M59.1,225.0 L63.0,223.7 L61.4,220.9 L56.1,222.3 L53.0,225.3 L49.2,226.3 L47.3,222.6 L44.2,224.9"/>
<path stroke="#bdbdbd" d="M64.2,224.0 L69.6,221.9 L66.6,216.7 L63.8,220.8 L58.4,222.0 L54.6,222.0 L54.3,217.8 L50.0,218.3"/>
<path stroke="#bdbdbd" d="M137.3,24.3 L132.0,26.6 L137.3,29.2 L142.5,31.0 L135.9,34.0 L134.7,35.6 L141.9,38.5 L142.4,40.6 L136.2,43.2 L138.9,44.9"/>
<path stroke="#ff1a1a" d="M136.3,29.5 L130.6,31.9 L135.6,34.3 L140.8,35.9 L135.9,39.3 L134.0,41.4 L141.2,43.3 L141.5,45.2 L135.3,48.5 L139.1,50.4"/>
<path stroke="#2323ff" d="M136.3,28.0 L131.3,30.9 L137.2,32.6 L142.1,35.2 L136.1,37.4 L134.5,39.2 L142.2,42.2 L142.7,43.4 L136.5,46.7 L140.3,48.2"/>
<path stroke="#bdbdbd" d="M31.6,178.8 L27.5,175.9 L25.8,173.2 L28.0,168.6 L31.2,165.5 L28.9,161.2 L27.6,158.1 L32.5,158.1"/>
<path stroke="#ff1a1a" d="M25.6,182.1 L24.2,179.3 L22.0,176.0 L23.6,171.2 L27.4,169.1 L24.7,165.8 L26.1,160.9 L31.1,161.2"/>
<path stroke="#2323ff" d="M29.9,184.1 L26.5,177.8 L26.2,174.9 L26.7,170.9 L28.2,166.9 L27.1,163.2 L27.3,160.5 L31.0,159.0"/>
<path stroke="#bdbdbd" d="M109.4,71.4 L112.9,73.2 L106.5,75.9 L106.8,78.5 L115.8,79.9 L113.5,82.2 L107.5,84.9 L113.6,86.4 L118.6,89.2 L113.6,91.7 L111.5,94.3 L119.3,96.0 L120.4,98.0 L113.5,100.3 L117.0,102.2 L123.4,104.3 L119.2,106.9 L115.2,109.4 L122.0,111.3 L124.9,114.0 L119.0,115.8"/>
<path stroke="#ff1a1a" d="M110.4,76.4 L113.9,78.9 L107.0,81.2 L107.9,83.8 L116.0,84.8 L113.9,87.8 L107.7,90.4 L113.6,92.0 L118.9,94.2 L113.3,96.9 L111.5,99.4 L118.9,101.2 L119.9,103.7 L113.4,106.3 L116.1,108.1 L122.6,109.7 L118.8,112.7 L115.2,115.2 L121.6,117.5 L124.4,119.2 L118.7,121.1"/>
<path stroke="#2323ff" d="M107.6,73.6 L111.7,76.2 L105.0,78.3 L106.2,81.0 L114.1,82.3 L111.8,85.6 L105.9,87.6 L111.6,90.1 L116.9,92.1 L111.2,94.3 L110.0,96.7 L117.4,99.1 L118.4,100.9 L113.1,103.2 L115.0,105.1 L122.2,107.7 L118.2,110.6 L115.2,112.3 L121.5,114.5 L124.9,117.5 L118.3,119.4"/>
<path stroke="#2323ff" d="M80.5,169.3 L76.3,172.2 L73.8,170.0 L71.7,175.4 L70.7,178.4 L76.9,178.3 L76.1,174.7 L76.0,170.9"/>
<path stroke="#ff1a1a" d="M78.5,172.0 L76.7,175.2 L72.5,173.1 L69.0,178.1 L69.1,181.0 L73.8,182.1 L72.7,177.5 L70.7,173.1"/>
<path stroke="#bdbdbd" d="M81.0,167.0 L79.2,169.3 L74.4,169.8 L72.7,175.1 L71.1,178.2 L75.2,179.3 L76.1,175.3 L74.1,171.8"/>
<path stroke="#bdbdbd" d="M26.2,175.7 L28.8,176.4 L29.9,173.0 L35.4,168.8 L32.7,165.1 L32.9,160.4 L36.9,159.4 L32.5,156.6"/>
<path stroke="#ff1a1a" d="M25.9,176.5 L27.6,178.6 L30.9,173.8 L35.5,172.6 L31.8,167.3 L34.7,163.8 L37.2,161.7 L33.9,159.4"/>
<path stroke="#2323ff" d="M27.4,177.0 L31.4,180.1 L34.2,176.8 L35.5,173.0 L33.6,169.3 L35.2,166.5 L40.1,163.8 L35.2,162.0"/>
<path stroke="#ff1a1a" d="M136.1,151.7 L135.3,153.2 L143.2,154.7 L143.7,156.7 L137.3,160.4 L141.8,162.6 L148.1,163.9 L143.9,166.0 L141.4,168.5 L148.3,170.9 L151.8,172.6 L145.1,175.5"/>
<path stroke="#2323ff" d="M139.4,149.9 L139.0,151.9 L146.0,153.3 L146.7,155.7 L140.3,158.1 L144.7,160.3 L150.7,161.7 L145.7,164.1 L143.9,166.3 L150.9,168.4 L153.3,169.8 L146.7,172.1"/>
<path stroke="#bdbdbd" d="M140.1,150.1 L139.3,152.0 L147.2,153.6 L147.2,155.6 L141.7,157.4 L145.3,160.0 L152.8,161.7 L148.2,163.7 L145.4,166.0 L152.7,168.4 L155.0,170.0 L148.5,172.0"/>
<path stroke="#bdbdbd" d="M120.5,197.6 L118.1,196.4 L112.2,196.8 L108.1,192.9 L111.9,189.6 L116.3,192.1 L114.4,196.0 L111.2,199.2"/>
<path stroke="#2323ff" d="M126.7,191.2 L121.5,191.0 L117.8,189.4 L113.7,189.8 L115.9,184.6 L119.7,187.0 L117.4,191.1 L114.4,195.1"/>
<path stroke="#ff1a1a" d="M122.9,193.5 L119.2,190.5 L115.5,191.9 L110.8,188.5 L115.2,185.3 L117.2,187.4 L117.3,193.4 L112.9,195.8"/>
<path stroke="#bdbdbd" d="M51.3,170.9 L45.2,170.8 L42.0,167.2 L38.3,166.3 L33.8,168.8 L32.8,163.1 L28.9,163.2 L27.3,167.4"/>
<path stroke="#ff1a1a" d="M50.7,176.6 L44.9,176.2 L42.0,172.9 L39.6,170.2 L36.1,172.1 L34.8,168.8 L30.6,167.8 L32.3,172.4"/>
<path stroke="#2323ff" d="M52.6,171.2 L48.0,170.1 L44.9,166.6 L41.0,165.3 L39.0,168.5 L36.7,162.9 L33.0,163.6 L34.6,167.6"/>
<path stroke="#bdbdbd" d="M187.6,160.3 L187.6,155.0 L191.4,159.0 L194.5,154.3 L190.9,152.1 L187.2,150.3 L183.0,152.1 L178.8,148.9"/>
<path stroke="#ff1a1a" d="M181.1,166.5 L181.9,163.6 L187.0,164.9 L187.7,161.2 L184.8,157.9 L180.3,157.2 L176.0,158.9 L174.3,155.4"/>
<path stroke="#2323ff" d="M184.5,163.0 L184.8,158.1 L188.1,161.2 L190.1,157.4 L187.2,155.0 L183.3,152.9 L179.7,154.7 L176.6,153.6"/>
<path stroke="#bdbdbd" d="M147.5,133.4 L143.6,134.9 L145.1,135.9 L153.6,136.7 L152.9,137.9 L148.9,139.3 L155.7,140.3 L161.8,141.1 L157.9,143.2 L157.2,143.8 L166.0,145.2 L168.0,145.9 L163.0,147.8"/>
<path stroke="#2323ff" d="M145.1,136.2 L141.0,137.5 L142.9,138.2 L151.8,139.4 L150.8,140.6 L147.7,142.0 L153.7,143.0 L159.9,144.4 L156.3,145.3 L155.6,146.7 L164.5,147.0 L166.0,148.1 L161.5,150.0"/>
<path stroke="#ff1a1a" d="M142.7,138.4 L138.6,139.5 L140.0,140.9 L149.1,141.7 L148.6,142.3 L145.0,144.7 L151.5,145.0 L157.7,146.2 L154.1,147.4 L153.9,148.6 L162.7,148.7 L164.8,149.7 L160.0,151.3"/>
<path stroke="#ff1a1a" d="M98.0,218.2 L98.5,222.6 L96.5,226.1 L90.9,225.8 L89.5,223.2 L93.4,221.3 L96.4,223.3 L95.0,226.6"/>
<path stroke="#2323ff" d="M100.0,216.6 L99.0,219.9 L97.1,224.8 L92.2,223.2 L91.1,219.1 L94.9,218.3 L97.5,219.8 L95.8,224.9"/>
<path stroke="#bdbdbd" d="M102.1,221.2 L102.9,224.6 L100.1,228.8 L96.2,227.0 L94.3,221.3 L98.7,220.3 L103.4,223.4 L102.4,225.3"/>
<path stroke="#bdbdbd" d="M183.0,211.6 L179.8,209.9 L179.4,206.3 L174.7,205.4 L179.6,203.2 L174.2,199.5 L174.9,204.0 L176.0,208.1"/>
<path stroke="#2323ff" d="M177.8,208.7 L174.6,208.7 L175.6,202.5 L172.2,201.5 L174.3,198.8 L172.5,196.8 L170.6,201.8 L173.8,205.3"/>
<path stroke="#ff1a1a" d="M179.7,210.3 L176.1,206.2 L174.8,201.8 L172.6,201.3 L175.5,199.9 L170.9,197.3 L171.4,199.6 L171.6,203.6"/>
<path stroke="#bdbdbd" d="M37.3,201.1 L41.1,199.0 L35.7,195.6 L33.7,194.0 L31.4,195.4 L33.3,198.3 L30.8,200.7 L34.4,204.6"/>
<path stroke="#ff1a1a" d="M35.6,199.7 L39.3,198.3 L36.4,194.7 L35.3,190.9 L31.2,192.8 L33.5,197.3 L29.2,199.8 L33.2,199.8"/>
<path stroke="#2323ff" d="M37.5,197.7 L41.6,196.1 L38.8,194.0 L36.3,189.6 L32.9,193.0 L36.1,196.2 L32.9,199.4 L35.2,202.9"/>
<path stroke="#bdbdbd" d="M132.2,36.4 L127.8,39.1 L124.7,41.4 L132.4,43.6 L134.4,45.0 L128.4,47.1 L131.0,49.5 L137.9,51.3 L135.7,53.2 L130.9,55.8 L136.8,57.2 L141.9,60.6 L136.1,62.6 L135.4,64.7 L142.7,66.6 L143.7,69.1 L137.2,71.7"/>
<path stroke="#ff1a1a" d="M133.0,42.3 L128.1,44.5 L125.1,47.0 L132.5,48.1 L135.3,49.9 L128.8,52.4 L130.5,55.3 L138.2,56.4 L136.3,58.7 L131.8,60.9 L137.6,62.8 L142.9,65.4 L137.3,67.7 L135.8,69.3 L143.9,71.6 L143.8,74.2 L138.2,76.4"/>
<path stroke="#2323ff" d="M132.6,40.5 L127.5,43.2 L124.9,45.6 L132.4,47.8 L134.7,49.8 L128.8,51.3 L130.6,53.8 L138.0,55.5 L136.4,58.1 L131.3,60.4 L137.7,62.1 L142.6,64.3 L137.2,66.9 L136.1,69.1 L143.9,70.8 L144.1,73.2 L137.5,75.6"/>
<path stroke="#bdbdbd" d="M88.7,21.8 L95.7,24.2 L92.8,26.5 L85.6,28.1 L91.3,30.8 L94.1,32.9 L87.7,34.9 L86.2,37.0 L92.6,39.6 L90.6,42.1"/>
<path stroke="#2323ff" d="M90.6,24.0 L97.1,26.4 L94.1,29.1 L87.6,31.1 L92.4,32.9 L95.9,35.6 L89.0,37.7 L87.1,39.9 L93.8,42.0 L92.3,44.9"/>
<path stroke="#ff1a1a" d="M90.3,26.0 L97.5,28.5 L94.9,30.1 L87.7,32.4 L92.9,34.7 L95.9,37.6 L89.2,39.6 L88.1,41.1 L94.7,43.5 L93.2,46.4"/>
<path stroke="#ff1a1a" d="M102.1,61.7 L96.7,63.1 L101.9,64.6 L109.2,64.7 L107.1,66.8 L104.4,69.0 L112.6,69.3 L116.6,70.4 L112.1,72.8 L114.0,74.6 L123.1,74.7 L122.5,76.9 L117.6,78.8 L125.0,79.0"/>
<path stroke="#2323ff" d="M102.6,59.6 L98.0,61.1 L102.9,62.0 L110.9,63.2 L107.5,65.1 L105.5,67.3 L113.8,68.0 L117.3,69.2 L113.0,71.0 L114.6,72.6 L123.7,73.3 L123.5,74.5 L117.9,76.8 L125.5,77.4"/>
<path stroke="#bdbdbd" d="M102.9,56.9 L97.4,58.5 L102.6,59.7 L110.4,60.4 L106.8,62.0 L104.6,64.6 L112.9,65.3 L117.1,66.1 L111.9,67.9 L114.2,69.8 L123.1,70.7 L122.1,71.9 L117.6,74.1 L125.3,74.9"/>
<path stroke="#ff1a1a" d="M107.1,189.0 L109.8,188.5 L111.0,192.0 L109.7,196.6 L108.1,201.2 L105.6,201.1 L104.9,205.9 L102.6,207.7"/>
<path stroke="#2323ff" d="M107.7,186.7 L113.8,185.6 L114.4,190.9 L111.6,193.9 L110.5,199.1 L106.9,198.6 L107.0,204.9 L105.7,207.6"/>
<path stroke="#bdbdbd" d="M107.6,195.1 L111.5,194.0 L110.3,198.7 L109.9,201.5 L109.9,205.1 L104.7,204.9 L105.2,208.9 L101.7,213.4"/>
<path stroke="#bdbdbd" d="M83.3,52.0 L90.2,54.4 L88.4,56.5 L81.3,59.1 L84.1,61.6 L88.9,64.1 L83.8,66.4 L78.6,68.7 L84.2,70.3 L86.3,72.8 L78.2,75.2 L78.2,78.0 L84.9,79.3 L81.3,82.2 L74.5,84.1 L79.7,86.8 L82.5,88.9 L75.7,90.3 L73.0,93.3 L79.0,95.7 L78.0,97.9"/>
<path stroke="#ff1a1a" d="M85.2,58.7 L91.4,60.3 L90.3,62.7 L83.3,64.7 L85.3,67.0 L90.9,69.6 L85.9,71.1 L80.7,73.5 L86.5,75.3 L87.7,78.3 L80.1,79.8 L80.7,82.2 L86.6,84.5 L83.2,85.8 L76.4,88.3 L80.7,91.0 L84.6,92.8 L77.4,94.9 L74.6,97.3 L81.0,99.0 L80.4,101.8"/>
<path stroke="#2323ff" d="M83.5,54.6 L90.4,56.9 L88.7,59.3 L81.7,61.0 L84.2,64.0 L89.2,66.4 L84.5,68.6 L79.1,71.3 L85.0,73.3 L86.6,75.1 L78.7,77.6 L78.9,79.7 L85.5,82.2 L82.3,84.3 L75.5,86.5 L79.6,89.6 L83.8,90.9 L76.9,93.8 L74.4,96.1 L80.4,97.8 L79.3,100.5"/>
<path stroke="#2323ff" d="M143.5,117.9 L144.0,119.8 L152.6,121.2 L152.2,122.9 L146.7,125.4 L152.2,126.7 L157.7,128.4 L153.3,131.0 L151.4,132.9 L160.1,134.6 L162.5,137.0 L156.2,138.8 L158.7,140.7 L166.4,142.9 L164.1,144.4"/>
<path stroke="#ff1a1a" d="M142.4,119.7 L143.2,121.9 L151.2,122.7 L151.1,125.4 L146.1,127.3 L150.8,129.6 L157.3,130.5 L152.7,133.3 L150.9,135.6 L159.5,137.7 L160.8,139.1 L154.6,141.6 L157.5,143.5 L165.3,144.5 L162.2,147.2"/>
<path stroke="#bdbdbd" d="M147.0,115.3 L147.1,117.9 L154.7,119.3 L154.7,120.4 L149.9,122.9 L154.9,124.7 L160.7,126.3 L156.1,129.2 L154.4,131.3 L162.6,133.4 L164.6,135.0 L158.8,137.1 L161.3,139.6 L169.3,140.6 L166.8,142.6"/>
<path stroke="#ff1a1a" d="M138.0,194.1 L139.6,190.9 L142.8,188.6 L144.1,192.0 L145.1,196.1 L151.5,197.0 L151.9,201.7 L154.8,206.3"/>
<path stroke="#2323ff" d="M138.9,197.3 L141.6,192.5 L143.4,191.4 L146.9,192.7 L147.3,196.6 L152.1,197.2 L154.2,201.7 L153.2,205.1"/>
<path stroke="#bdbdbd" d="M143.8,197.4 L145.2,194.2 L148.3,192.2 L151.7,194.6 L150.3,198.0 L154.2,198.1 L157.0,204.0 L158.4,205.7"/>
<path stroke="#ff1a1a" d="M138.4,142.1 L141.6,144.4 L135.8,146.2 L137.1,148.4 L144.6,149.5 L143.3,152.5 L138.7,154.0 L143.9,155.9 L149.3,157.9 L144.3,159.5 L142.6,162.3 L151.3,163.0 L152.2,165.2 L146.7,168.0"/>
<path stroke="#2323ff" d="M138.5,140.0 L141.4,141.6 L135.2,144.3 L136.9,146.0 L144.7,147.2 L143.6,149.5 L138.7,151.5 L144.0,153.2 L149.9,154.9 L144.6,156.8 L143.6,159.8 L152.1,160.3 L152.8,162.4 L147.5,165.4"/>
<path stroke="#bdbdbd" d="M140.7,139.4 L144.6,141.2 L138.8,144.1 L140.7,145.8 L148.3,147.0 L147.6,149.7 L141.9,152.0 L147.6,154.0 L153.6,156.0 L148.6,158.1 L147.7,159.6 L155.7,161.6 L156.4,163.5 L151.0,166.2"/>
<path stroke="#ff1a1a" d="M77.1,192.2 L77.2,197.8 L77.9,200.2 L75.0,204.2 L77.5,207.6 L80.5,207.3 L78.9,203.3 L77.1,198.3"/>
<path stroke="#2323ff" d="M77.8,191.0 L78.3,194.2 L82.1,199.7 L77.3,202.2 L80.8,204.4 L83.3,201.7 L82.8,197.9 L80.4,194.6"/>
<path stroke="#bdbdbd" d="M74.9,191.3 L74.6,194.3 L76.2,199.5 L70.9,202.2 L74.2,204.9 L77.4,203.6 L74.2,198.5 L73.9,193.7"/>
<path stroke="#2323ff" d="M81.3,218.1 L81.8,221.5 L80.4,225.5 L77.5,229.3 L72.4,229.2 L68.7,232.2 L63.5,232.1 L63.8,238.7"/>
<path stroke="#ff1a1a" d="M83.2,223.5 L83.6,226.7 L81.7,231.6 L77.8,233.7 L72.7,233.8 L68.9,234.6 L64.4,237.5 L64.0,241.0"/>
<path stroke="#bdbdbd" d="M85.7,217.7 L85.4,222.9 L83.7,224.9 L80.7,229.8 L76.3,229.3 L70.5,233.0 L68.1,233.9 L66.9,238.4"/>
<path stroke="#bdbdbd" d="M153.4,80.2 L159.4,81.5 L164.0,84.0 L159.5,85.8 L159.0,88.1 L166.7,89.4 L166.9,91.9 L161.4,93.8 L165.4,96.0 L172.5,97.1 L169.3,99.9 L167.0,102.3 L174.5,102.9 L176.5,106.0 L170.8,107.0"/>
<path stroke="#2323ff" d="M150.6,83.6 L156.5,84.6 L162.0,87.2 L157.1,88.7 L156.3,90.9 L165.1,92.1 L165.3,94.2 L159.9,96.6 L164.2,98.4 L170.9,99.9 L166.9,101.4 L165.2,103.9 L172.6,104.9 L175.8,107.6 L169.6,108.7"/>
<path stroke="#ff1a1a" d="M150.5,83.9 L156.3,85.2 L161.0,87.2 L156.4,89.3 L155.8,91.3 L164.5,92.9 L164.1,95.4 L158.4,97.1 L163.0,99.2 L169.6,100.1 L166.0,102.9 L163.5,105.4 L171.5,106.3 L174.3,109.2 L168.4,110.4"/>
<path stroke="#bdbdbd" d="M143.2,72.9 L149.6,74.4 L144.5,76.8 L143.4,79.4 L151.3,81.3 L153.0,82.3 L147.6,84.7 L151.2,86.9 L158.6,88.6 L155.9,90.8 L152.2,92.6 L159.4,94.7 L162.9,96.1 L157.8,98.6 L158.9,100.2 L167.2,101.9 L166.2,102.8 L161.7,105.6 L167.1,107.2"/>
<path stroke="#ff1a1a" d="M142.0,77.0 L147.8,79.2 L143.0,81.0 L142.0,83.0 L149.6,84.1 L150.8,86.0 L145.5,88.4 L148.9,89.9 L156.6,91.7 L153.9,94.6 L149.9,96.2 L157.5,97.5 L161.0,100.1 L155.8,102.2 L156.9,103.5 L164.7,105.2 L164.3,107.1 L159.2,108.9 L164.7,111.1"/>
<path stroke="#2323ff" d="M142.0,75.6 L147.5,77.0 L143.9,79.7 L142.7,81.6 L150.5,83.3 L151.8,85.6 L146.6,87.3 L150.0,89.4 L157.9,90.9 L154.6,93.2 L150.6,95.7 L157.7,97.1 L161.6,99.1 L157.0,100.6 L157.9,103.1 L165.5,104.9 L164.9,106.0 L159.7,108.2 L165.3,109.7"/>
<path stroke="#bdbdbd" d="M171.6,156.2 L175.9,154.5 L179.0,158.2 L181.6,156.0 L183.3,159.4 L186.2,161.4 L184.5,164.9 L180.2,169.2"/>
<path stroke="#ff1a1a" d="M169.4,162.1 L173.3,160.3 L176.7,164.3 L179.3,159.8 L180.4,164.6 L182.8,166.9 L180.1,172.1 L176.3,174.3"/>
<path stroke="#2323ff" d="M169.1,157.0 L172.2,155.1 L175.2,157.2 L179.8,155.4 L182.5,158.4 L183.3,163.3 L182.0,167.3 L179.1,169.9"/>
<path stroke="#bdbdbd" d="M56.2,121.4 L51.9,123.0 L57.7,124.8 L57.0,127.0 L49.3,128.1 L49.7,130.5 L54.6,132.9 L49.5,133.9 L43.4,135.6 L47.4,138.0 L49.7,139.8 L42.1,141.8 L40.1,143.5 L45.0,146.2 L42.7,147.8"/>
<path stroke="#ff1a1a" d="M59.3,122.9 L55.4,125.8 L61.2,127.5 L60.5,129.9 L53.1,131.2 L53.1,134.3 L59.0,136.4 L53.8,137.9 L47.2,139.9 L52.0,142.0 L54.5,144.0 L46.5,145.8 L44.7,148.2 L50.1,150.0 L47.6,152.7"/>
<path stroke="#2323ff" d="M58.6,121.4 L54.7,124.1 L60.5,126.3 L59.6,128.4 L51.4,129.2 L52.3,132.2 L57.2,134.4 L51.4,136.0 L45.8,138.2 L50.2,140.7 L51.9,142.5 L44.2,144.6 L42.2,146.9 L48.3,149.0 L45.2,150.7"/>
<path stroke="#bdbdbd" d="M189.3,226.5 L187.3,228.3 L188.0,232.9 L184.9,238.0 L185.9,242.7 L190.0,243.4 L193.2,241.9 L195.5,239.1"/>
<path stroke="#2323ff" d="M179.8,221.2 L180.9,225.9 L180.8,228.9 L178.0,233.9 L179.2,238.4 L181.9,237.7 L188.1,236.5 L189.1,233.1"/>
<path stroke="#ff1a1a" d="M179.5,222.4 L180.1,227.1 L177.0,230.5 L174.7,233.0 L175.0,238.0 L179.2,236.7 L183.0,236.9 L184.2,233.5"/>
<path stroke="#bdbdbd" d="M148.5,97.8 L151.2,99.8 L159.8,101.0 L157.1,104.0 L154.0,105.5 L160.9,106.8 L166.2,108.6 L160.8,110.6 L161.2,112.2 L169.5,113.5 L170.0,115.6 L164.8,117.6 L170.2,119.1 L177.1,120.4 L173.2,123.1"/>
<path stroke="#ff1a1a" d="M144.5,102.9 L147.3,104.5 L155.4,105.4 L153.4,107.2 L150.0,109.6 L157.2,110.9 L162.4,112.1 L156.8,114.7 L158.0,115.9 L166.4,117.7 L166.4,119.1 L161.7,121.5 L166.8,122.5 L173.7,123.9 L169.6,126.4"/>
<path stroke="#2323ff" d="M146.6,100.6 L150.1,102.0 L158.0,102.8 L155.7,105.3 L152.1,106.6 L159.6,108.7 L164.1,109.8 L159.2,111.9 L160.2,113.8 L168.7,114.9 L168.4,116.1 L162.7,119.0 L168.7,120.2 L175.2,121.5 L171.6,123.4"/>
<path stroke="#bdbdbd" d="M121.5,18.3 L128.0,20.1 L127.3,22.3 L120.6,24.7 L123.2,27.0 L127.7,29.8 L123.3,32.5 L118.7,34.3 L124.9,36.9 L126.2,39.4 L118.7,40.8"/>
<path stroke="#2323ff" d="M121.7,21.0 L128.5,22.9 L127.9,25.3 L121.1,26.9 L123.8,29.3 L128.9,31.6 L124.3,33.6 L119.9,36.3 L126.2,38.8 L128.0,41.3 L120.6,42.6"/>
<path stroke="#ff1a1a" d="M121.7,24.1 L128.7,26.0 L127.0,29.1 L120.9,30.7 L123.4,33.0 L128.2,35.9 L123.1,38.4 L119.0,40.0 L125.3,42.5 L126.5,44.7 L119.0,46.7"/>
<path stroke="#bdbdbd" d="M97.4,82.1 L102.7,85.0 L97.4,87.0 L92.0,89.0 L97.7,91.8 L99.0,94.4 L91.7,96.7 L90.6,98.4 L96.9,100.8 L93.2,103.3 L86.6,104.9 L90.7,107.6 L94.4,109.7 L87.0,111.7 L84.8,114.2"/>
<path stroke="#ff1a1a" d="M99.9,88.6 L105.4,91.5 L99.2,93.5 L94.7,95.3 L100.6,97.8 L102.0,100.8 L94.3,102.2 L94.3,104.4 L100.3,106.7 L96.3,108.6 L90.2,110.6 L94.5,112.5 L97.7,115.3 L90.7,116.9 L88.0,119.0"/>
<path stroke="#2323ff" d="M99.5,86.4 L104.1,88.7 L98.7,91.0 L94.2,93.6 L98.8,96.0 L100.7,98.6 L92.7,100.1 L92.4,102.0 L98.6,104.8 L95.6,106.7 L88.8,109.1 L92.3,111.1 L95.7,113.5 L88.5,115.0 L86.5,118.0"/>
<path stroke="#bdbdbd" d="M80.4,209.2 L84.6,209.0 L86.8,209.1 L89.5,211.7 L84.9,215.0 L80.3,214.4 L76.8,218.9 L77.1,222.0"/>
<path stroke="#ff1a1a" d="M78.9,214.5 L80.9,214.2 L86.2,213.3 L88.1,217.0 L83.4,220.8 L79.2,221.1 L75.8,223.0 L73.6,226.6"/>
<path stroke="#2323ff" d="M79.6,209.8 L83.2,209.3 L86.7,207.8 L87.1,211.9 L83.3,214.9 L80.3,213.5 L75.5,216.4 L75.6,220.7"/>
<path stroke="#ff1a1a" d="M160.3,249.4 L161.6,247.4 L164.8,243.4 L163.7,239.7 L159.3,241.4 L155.7,239.1 L156.7,236.5 L157.5,231.9"/>
<path stroke="#2323ff" d="M161.9,247.7 L164.8,243.9 L166.4,241.6 L167.3,236.7 L161.7,235.9 L156.1,236.9 L159.0,231.4 L158.9,227.9"/>
<path stroke="#bdbdbd" d="M164.1,250.2 L168.5,248.1 L172.1,244.2 L171.8,238.5 L167.8,240.1 L161.7,238.0 L163.8,233.4 L166.0,231.1"/>
<path stroke="#2323ff" d="M63.2,213.2 L66.0,209.9 L69.7,207.4 L68.5,203.7 L66.0,203.2 L61.6,203.7 L57.0,202.0 L57.9,205.6"/>
<path stroke="#ff1a1a" d="M61.0,212.3 L62.7,208.4 L67.8,207.2 L67.4,200.6 L61.9,200.4 L58.2,201.4 L52.7,199.1 L52.3,204.2"/>
<path stroke="#bdbdbd" d="M68.4,211.3 L71.3,207.9 L73.7,203.0 L73.9,198.5 L68.3,196.9 L65.6,197.6 L61.0,197.2 L58.2,201.9"/>
<path stroke="#bdbdbd" d="M84.7,185.1 L80.9,184.8 L76.4,183.1 L71.9,183.4 L76.4,178.6 L73.5,177.1 L68.1,179.1 L65.3,175.6"/>
<path stroke="#ff1a1a" d="M83.2,187.6 L79.9,184.7 L74.9,184.1 L70.6,184.1 L74.6,178.9 L70.5,178.2 L65.0,179.3 L60.6,177.6"/>
<path stroke="#2323ff" d="M87.9,182.1 L84.7,179.9 L80.0,178.5 L75.3,178.1 L78.2,175.7 L74.7,171.8 L71.9,174.2 L67.5,171.6"/>
<path stroke="#bdbdbd" d="M109.4,116.6 L106.3,118.8 L99.5,120.8 L103.8,123.0 L106.5,125.7 L100.3,126.7 L97.6,128.9 L102.6,131.6 L102.8,134.2 L94.2,136.2 L96.3,138.0 L101.2,140.2 L96.0,142.6 L90.8,145.1 L96.5,147.2 L97.9,149.1 L90.3,150.8 L89.8,153.5 L95.8,155.2"/>
<path stroke="#ff1a1a" d="M113.0,119.4 L109.1,121.9 L102.7,124.2 L106.8,125.5 L110.0,128.7 L103.1,130.4 L100.1,132.4 L106.3,135.1 L104.8,137.4 L97.1,138.9 L99.1,142.0 L103.7,144.1 L98.8,145.9 L93.5,148.2 L99.0,150.5 L100.0,152.4 L92.3,155.1 L92.5,157.3 L97.8,159.5"/>
<path stroke="#2323ff" d="M111.8,118.5 L107.9,119.7 L101.5,121.8 L105.2,124.4 L108.3,126.6 L102.2,128.0 L98.9,130.6 L105.0,132.6 L104.0,135.3 L96.4,136.7 L98.0,139.3 L103.6,141.7 L97.9,143.8 L92.9,145.3 L98.4,147.4 L100.5,149.9 L92.3,152.1 L92.3,154.0 L98.7,156.1"/>
<path stroke="#bdbdbd" d="M132.4,57.0 L138.0,59.1 L144.3,60.5 L139.4,62.6 L137.6,64.8 L146.2,67.2 L146.8,68.1 L141.8,71.5 L144.2,72.9 L151.4,74.8 L147.9,76.8 L144.9,79.3 L151.9,80.3 L155.3,82.4 L149.9,85.1 L151.3,87.0 L159.0,88.4 L158.2,90.7 L152.7,93.2"/>
<path stroke="#ff1a1a" d="M132.6,61.9 L138.4,63.9 L144.5,65.7 L138.9,68.2 L137.8,70.5 L145.9,71.8 L146.3,73.9 L141.4,76.9 L144.8,78.6 L151.2,80.0 L148.2,83.5 L145.1,85.0 L151.9,86.4 L155.0,88.9 L149.3,91.2 L150.4,93.5 L158.5,94.8 L157.0,97.2 L152.0,99.5"/>
<path stroke="#2323ff" d="M132.2,61.1 L138.3,63.1 L144.1,65.0 L138.7,67.3 L137.1,68.8 L145.6,71.5 L146.0,72.4 L140.4,75.2 L144.1,76.4 L151.4,78.1 L147.5,81.2 L144.3,82.3 L151.2,83.8 L154.3,86.2 L148.5,88.5 L149.7,90.1 L157.5,91.8 L156.7,94.1 L151.7,96.6"/>
<path stroke="#bdbdbd" d="M161.2,119.2 L155.1,122.6 L158.0,124.3 L166.1,126.0 L163.0,128.7 L159.3,130.5 L165.7,133.0 L170.4,134.5 L164.3,136.3 L164.4,138.8 L172.2,140.5 L172.3,143.0 L167.3,144.8 L172.2,147.8"/>
<path stroke="#ff1a1a" d="M156.0,122.3 L150.1,125.1 L153.0,127.4 L160.7,128.9 L157.0,131.6 L153.9,133.1 L160.2,134.9 L164.6,137.0 L158.6,139.5 L159.6,141.8 L167.2,143.7 L166.8,146.1 L161.2,148.4 L166.8,150.8"/>
<path stroke="#2323ff" d="M158.7,120.3 L152.6,123.8 L155.4,125.7 L163.7,126.8 L160.2,129.4 L156.3,131.4 L163.4,133.3 L167.5,134.8 L162.2,138.0 L162.4,139.7 L170.1,141.5 L170.1,144.0 L164.3,146.1 L169.2,148.3"/>
<path stroke="#bdbdbd" d="M151.3,212.7 L154.4,206.5 L153.2,202.2 L151.6,203.3 L148.7,207.4 L151.4,211.2 L150.5,212.8 L149.0,218.0"/>
<path stroke="#ff1a1a" d="M152.5,211.1 L153.9,208.7 L154.7,204.5 L150.6,204.3 L148.4,208.5 L150.6,212.8 L148.2,216.1 L147.9,219.1"/>
<path stroke="#2323ff" d="M154.5,214.3 L156.7,211.6 L155.6,207.5 L151.1,207.2 L150.7,210.1 L153.9,213.6 L152.5,218.3 L150.9,223.4"/>
<path stroke="#ff1a1a" d="M115.3,29.8 L109.4,32.5 L107.9,34.4 L114.4,36.6 L113.5,38.6 L107.2,41.5 L109.9,43.8 L115.7,45.6 L111.3,48.0 L106.8,50.0 L113.9,52.6 L114.8,54.5 L108.2,57.2 L108.5,59.9 L115.1,61.8"/>
<path stroke="#2323ff" d="M115.4,27.7 L109.0,30.3 L106.9,32.1 L113.9,34.7 L113.4,37.2 L106.1,39.8 L109.0,41.8 L115.0,44.7 L110.1,47.4 L105.5,49.3 L112.0,51.8 L113.8,54.0 L107.3,56.7 L106.9,58.8 L113.8,60.8"/>
<path stroke="#bdbdbd" d="M115.5,25.5 L109.2,28.3 L107.6,31.0 L114.3,32.4 L113.8,34.4 L106.5,37.4 L109.6,39.7 L115.4,41.9 L110.2,44.1 L106.1,46.6 L112.9,49.1 L113.5,50.6 L107.4,53.4 L107.0,55.5 L114.4,57.9"/>
<path stroke="#bdbdbd" d="M102.5,195.5 L102.2,192.7 L102.6,188.6 L105.4,188.7 L104.3,192.2 L103.0,199.0 L99.1,196.7 L99.4,193.9"/>
<path stroke="#2323ff" d="M106.8,194.7 L105.2,190.2 L106.9,186.2 L110.4,187.4 L108.9,193.5 L109.6,197.2 L103.4,196.4 L102.6,192.5"/>
<path stroke="#ff1a1a" d="M106.5,197.1 L105.6,191.9 L104.2,187.8 L107.6,190.4 L107.5,196.3 L106.7,199.6 L100.6,200.1 L100.5,197.1"/>
<path stroke="#bdbdbd" d="M153.2,171.1 L148.7,172.4 L150.2,167.2 L154.8,170.5 L159.7,171.0 L165.3,171.3 L163.2,167.4 L158.1,167.9"/>
<path stroke="#ff1a1a" d="M147.2,174.5 L143.2,173.7 L143.3,169.0 L147.5,171.1 L152.6,170.9 L155.2,173.7 L157.0,167.5 L151.9,167.4"/>
<path stroke="#2323ff" d="M149.7,169.0 L144.7,167.6 L145.8,163.9 L150.6,166.6 L153.4,165.0 L159.4,166.8 L157.7,162.1 L152.5,162.6"/>
<path stroke="#bdbdbd" d="M93.5,37.7 L87.6,39.8 L92.3,42.7 L94.8,44.7 L87.7,46.7 L85.3,48.6 L91.1,51.7 L89.2,53.0 L82.7,54.7 L85.6,57.3 L89.8,59.8 L83.2,61.8 L79.0,63.3"/>
<path stroke="#ff1a1a" d="M94.3,42.5 L88.3,43.7 L92.7,46.6 L95.9,47.9 L88.0,50.0 L87.1,52.3 L92.6,54.7 L90.6,56.1 L83.6,58.6 L86.7,61.1 L90.7,63.0 L84.1,65.2 L80.3,67.3"/>
<path stroke="#2323ff" d="M94.9,39.6 L89.1,41.2 L93.5,43.1 L96.4,45.4 L88.6,47.3 L86.1,49.2 L91.9,52.8 L90.8,54.5 L82.8,55.8 L85.4,58.7 L89.7,61.3 L83.7,62.8 L78.8,64.8"/>
<path stroke="#bdbdbd" d="M214.6,207.9 L212.8,211.7 L208.5,209.9 L205.2,212.9 L202.3,215.8 L200.2,217.9 L199.6,220.9 L193.7,220.4 L188.6,221.8 L191.2,222.3 L189.1,223.1 L181.2,223.2 L180.6,225.4 L182.6,225.0 L178.5,228.1 L171.5,224.3 L170.8,220.7 L165.9,220.8 L163.8,218.1 L163.4,211.8 L167.9,213.1 L171.7,213.5 L175.9,210.1 L174.9,205.8 L171.8,204.3 L178.2,200.9 L178.1,199.0 L172.8,197.7 L177.0,193.2 L181.7,195.3 L183.1,200.2"/>
<path stroke="#2323ff" d="M206.6,201.9 L204.1,205.2 L200.5,204.4 L197.3,207.5 L197.1,210.6 L192.2,214.9 L194.6,215.3 L188.1,216.0 L182.8,217.6 L187.4,219.3 L183.4,221.5 L176.6,222.8 L176.7,222.9 L179.1,225.5 L174.7,227.2 L170.5,223.8 L168.0,221.7 L164.5,222.4 L162.1,217.2 L164.1,214.2 L168.3,215.3 L172.4,213.2 L176.3,211.6 L177.4,206.7 L172.8,205.7 L179.2,204.0 L177.8,200.5 L174.2,199.0 L178.2,194.6 L183.1,196.7 L185.3,200.2"/>
<path stroke="#ff1a1a" d="M205.9,202.5 L204.9,206.0 L200.9,205.8 L198.0,209.7 L196.8,214.7 L193.2,216.6 L194.6,218.0 L190.0,218.9 L185.1,221.1 L186.5,222.6 L185.2,222.9 L178.9,225.7 L178.0,226.0 L181.3,227.7 L176.9,230.1 L172.4,227.6 L168.5,223.7 L165.0,223.0 L164.0,220.7 L165.0,215.3 L169.9,216.8 L174.3,216.4 L177.9,212.8 L177.4,209.5 L173.8,206.6 L178.4,204.4 L178.2,202.4 L173.0,199.8 L177.0,195.0 L181.4,197.6 L183.1,202.4"/>
<path stroke="#bdbdbd" d="M170.7,192.5 L174.7,188.6 L172.5,187.0 L168.3,185.8 L164.3,181.9 L168.5,181.4 L171.7,183.9 L174.8,178.6"/>
<path stroke="#2323ff" d="M166.6,188.9 L168.9,186.5 L165.1,182.8 L161.8,182.5 L157.7,179.1 L161.9,175.7 L163.9,177.4 L165.5,173.8"/>
<path stroke="#ff1a1a" d="M160.3,189.8 L164.5,186.0 L161.8,182.3 L157.1,181.1 L153.8,180.8 L157.2,178.2 L161.0,179.8 L163.3,174.6"/>
<path stroke="#bdbdbd" d="M83.8,119.0 L82.7,121.0 L73.9,122.3 L75.1,124.2 L80.8,127.2 L74.4,128.5 L69.3,130.1 L73.9,132.6 L75.3,134.9 L67.2,136.4 L66.1,138.0 L71.2,140.3 L68.9,142.8 L60.8,143.9 L64.3,146.5 L68.2,148.6 L60.2,149.9 L56.5,152.4 L63.0,154.6 L61.8,156.7 L54.0,158.3"/>
<path stroke="#ff1a1a" d="M87.4,122.7 L86.8,124.1 L78.5,126.0 L80.1,128.5 L85.0,130.6 L79.4,132.2 L74.1,134.0 L78.3,136.7 L80.5,138.7 L71.7,140.3 L71.1,141.6 L76.2,144.7 L73.2,146.8 L65.7,148.5 L69.6,150.0 L72.5,151.9 L65.6,153.4 L61.9,155.9 L67.9,158.3 L66.6,159.7 L58.3,162.0"/>
<path stroke="#2323ff" d="M85.7,121.0 L85.0,122.4 L76.2,123.7 L78.0,126.4 L82.9,129.4 L77.4,130.2 L71.6,132.0 L76.2,135.3 L77.3,136.7 L69.2,138.5 L68.4,139.7 L74.0,142.7 L70.9,144.5 L63.4,145.9 L66.8,148.3 L70.7,150.1 L62.8,152.1 L59.7,154.1 L65.8,156.3 L63.7,157.7 L56.3,160.3"/>
<path stroke="#bdbdbd" d="M74.8,181.3 L74.3,175.0 L78.1,174.4 L73.4,176.9 L72.8,182.6 L76.6,180.4 L79.8,183.2 L80.5,187.3"/>
<path stroke="#2323ff" d="M78.6,176.7 L77.1,172.4 L82.0,169.6 L76.9,171.6 L79.0,177.6 L83.0,176.9 L84.1,179.9 L88.2,183.3"/>
<path stroke="#ff1a1a" d="M77.0,180.4 L74.6,176.0 L79.8,172.8 L76.1,176.3 L76.5,180.3 L80.0,180.2 L81.1,184.4 L84.9,186.2"/>
<path stroke="#bdbdbd" d="M159.7,233.9 L159.0,236.6 L163.1,234.8 L160.7,233.1 L160.7,228.3 L165.5,224.3 L167.3,228.7 L170.5,229.7"/>
<path stroke="#2323ff" d="M155.0,233.1 L151.6,236.8 L155.3,237.0 L154.5,233.2 L155.2,230.1 L157.5,227.1 L160.1,229.7 L165.0,231.8"/>
<path stroke="#ff1a1a" d="M151.3,235.8 L147.8,240.0 L153.1,239.3 L150.5,235.4 L151.4,230.3 L154.3,229.3 L156.0,231.1 L160.9,232.4"/>
<path stroke="#bdbdbd" d="M118.6,217.5 L117.2,214.4 L113.9,210.1 L113.2,207.4 L117.8,204.0 L121.7,201.4 L118.4,199.6 L115.2,200.8"/>
<path stroke="#ff1a1a" d="M115.1,213.4 L116.0,208.6 L111.6,207.7 L110.2,203.3 L113.9,198.3 L117.5,197.4 L114.9,194.7 L110.2,194.1"/>
<path stroke="#2323ff" d="M118.9,209.6 L119.9,204.4 L115.3,204.0 L116.7,199.5 L118.8,195.4 L123.8,194.5 L122.1,191.1 L118.5,192.9"/>
<path stroke="#bdbdbd" d="M30.8,152.6 L33.1,149.9 L32.7,153.1 L29.3,157.8 L26.4,154.0 L25.9,148.6 L27.7,149.5 L29.1,151.4"/>
<path stroke="#2323ff" d="M27.5,156.8 L30.9,155.0 L30.9,158.1 L27.6,161.7 L25.1,160.1 L24.3,155.2 L29.7,154.4 L29.1,158.3"/>
<path stroke="#ff1a1a" d="M26.2,157.4 L30.4,155.9 L30.4,159.6 L28.3,162.7 L25.6,161.4 L23.5,156.7 L29.3,156.7 L30.4,160.9"/>
<path stroke="#bdbdbd" d="M169.7,172.6 L167.8,176.4 L172.2,178.8 L173.6,177.1 L176.7,178.4 L180.6,183.0 L181.8,185.3 L183.6,187.9"/>
<path stroke="#ff1a1a" d="M162.8,171.4 L160.4,176.7 L162.1,180.1 L165.9,176.2 L169.7,177.6 L170.0,181.5 L173.6,185.6 L176.5,186.9"/>
<path stroke="#2323ff" d="M163.1,164.1 L163.4,168.9 L165.2,174.3 L167.2,171.5 L171.3,173.4 L172.4,176.6 L175.9,180.6 L178.1,181.9"/>
<path stroke="#2323ff" d="M67.5,238.1 L63.6,237.4 L58.9,237.6 L62.7,233.2 L61.9,229.7 L61.1,224.5 L58.2,221.6 L52.5,220.8"/>
<path stroke="#ff1a1a" d="M66.2,239.4 L62.7,239.2 L58.8,238.2 L62.1,234.1 L61.6,229.8 L61.4,225.1 L59.0,221.3 L53.9,222.1"/>
<path stroke="#bdbdbd" d="M66.9,242.3 L62.0,240.9 L58.1,239.7 L59.8,237.3 L62.3,232.1 L61.7,229.6 L58.5,226.3 L55.0,225.2"/>
<path stroke="#ff1a1a" d="M56.6,175.6 L53.6,172.4 L49.7,168.5 L51.3,164.8 L54.7,161.3 L56.0,157.0 L56.7,153.8 L53.8,151.8"/>
<path stroke="#2323ff" d="M59.0,178.1 L56.7,176.1 L53.2,171.8 L53.0,167.7 L57.0,165.0 L57.5,162.2 L60.3,156.8 L55.9,158.0"/>
<path stroke="#bdbdbd" d="M56.9,178.3 L56.9,174.6 L52.1,174.5 L53.9,169.3 L56.2,165.7 L56.2,162.5 L60.1,157.5 L55.2,157.5"/>
<path stroke="#2323ff" d="M153.6,99.2 L148.8,101.1 L146.3,103.7 L154.1,105.4 L156.2,107.6 L150.0,109.5 L152.6,111.9 L159.4,114.4 L157.2,115.5 L152.4,118.6 L158.1,120.1 L163.7,122.2 L157.7,124.1 L157.0,126.5 L164.5,128.4 L164.8,130.7 L159.1,132.7"/>
<path stroke="#ff1a1a" d="M150.5,102.5 L146.7,104.4 L143.7,106.9 L151.4,109.0 L153.8,110.7 L147.9,113.2 L149.9,115.6 L157.6,118.1 L155.0,119.8 L150.4,122.4 L156.7,124.1 L162.1,126.1 L155.6,128.2 L155.5,130.5 L163.2,132.8 L164.3,134.6 L158.1,136.2"/>
<path stroke="#bdbdbd" d="M154.3,97.0 L149.2,99.4 L147.5,101.9 L154.3,103.7 L156.5,105.3 L151.6,107.9 L153.2,109.9 L161.2,112.0 L158.9,113.4 L154.2,116.8 L159.5,118.2 L164.8,120.9 L159.0,122.4 L158.7,123.8 L166.8,126.4 L167.0,128.6 L161.8,130.8"/>
<path stroke="#bdbdbd" d="M45.2,188.6 L42.6,194.6 L47.7,194.7 L48.9,188.4 L54.8,186.9 L51.0,184.5 L47.5,188.4 L47.7,191.2"/>
<path stroke="#2323ff" d="M46.2,186.5 L45.5,192.0 L51.0,191.2 L52.0,186.3 L56.2,184.6 L53.0,181.7 L48.4,183.0 L49.2,188.7"/>
<path stroke="#ff1a1a" d="M41.2,186.9 L41.4,191.1 L44.6,189.7 L48.3,187.0 L51.1,185.0 L48.0,181.9 L42.7,182.0 L44.4,187.0"/>
<path stroke="#bdbdbd" d="M199.3,215.0 L203.4,212.0 L202.9,208.7 L196.7,207.4 L193.1,207.0 L190.9,204.1 L189.3,200.9 L184.8,199.3"/>
<path stroke="#2323ff" d="M192.9,214.8 L197.5,211.3 L196.3,208.5 L192.6,207.6 L189.2,207.5 L186.0,202.1 L184.5,201.6 L181.3,197.8"/>
<path stroke="#ff1a1a" d="M193.8,216.2 L197.9,213.6 L195.7,208.7 L191.1,207.9 L186.5,209.0 L186.8,203.7 L181.1,200.7 L177.8,199.5"/>
<path stroke="#bdbdbd" d="M139.2,65.3 L133.3,68.4 L133.9,70.0 L142.2,71.5 L140.5,73.5 L135.7,75.9 L140.6,78.2 L146.5,78.9 L142.0,81.4 L139.8,83.4 L147.9,85.6 L149.0,87.8 L143.4,90.0 L146.7,92.5 L154.3,93.6 L150.5,95.4 L147.3,97.5 L154.0,99.7 L156.9,101.3 L152.2,103.3 L151.8,105.9"/>
<path stroke="#ff1a1a" d="M136.7,70.9 L130.8,74.1 L130.9,75.7 L139.6,77.3 L138.7,79.8 L133.5,81.8 L138.4,83.3 L144.4,85.3 L139.8,87.5 L138.9,89.1 L146.5,91.2 L148.4,93.7 L141.7,96.2 L145.0,98.0 L152.7,99.0 L149.6,101.1 L146.4,103.1 L153.0,105.0 L156.8,106.5 L151.1,109.4 L151.7,111.1"/>
<path stroke="#2323ff" d="M137.0,68.1 L131.3,70.4 L132.1,72.1 L140.9,73.4 L138.8,75.9 L134.1,77.8 L139.4,80.0 L145.2,81.1 L140.9,83.5 L138.7,85.8 L146.7,87.5 L147.8,89.3 L142.0,91.5 L145.5,93.9 L152.9,95.8 L149.0,97.6 L145.8,100.0 L152.4,101.9 L156.1,104.2 L150.4,106.3 L151.5,108.5"/>
<path stroke="#bdbdbd" d="M30.0,219.0 L33.2,219.4 L38.6,222.6 L36.4,225.3 L33.7,230.6 L36.9,233.9 L41.4,230.8 L44.2,231.2"/>
<path stroke="#2323ff" d="M33.6,215.8 L37.3,216.5 L41.6,218.6 L39.9,221.2 L37.7,225.1 L40.5,229.4 L42.5,225.8 L46.2,224.6"/>
<path stroke="#ff1a1a" d="M30.6,214.6 L33.4,216.6 L37.0,220.4 L35.9,224.1 L33.9,227.0 L38.6,231.5 L40.9,228.4 L44.1,227.9"/>
<path stroke="#bdbdbd" d="M104.7,236.1 L105.7,232.6 L110.1,231.4 L108.9,227.4 L111.1,225.1 L112.2,221.4 L116.2,219.3 L115.1,215.2"/>
<path stroke="#ff1a1a" d="M95.6,233.7 L99.4,231.3 L102.8,230.6 L100.6,226.5 L103.9,223.6 L106.8,220.2 L110.6,217.6 L108.8,214.8"/>
<path stroke="#2323ff" d="M101.4,232.5 L103.3,228.7 L108.3,228.0 L107.5,223.9 L111.3,222.6 L111.7,216.9 L116.6,216.6 L114.5,212.4"/>
<path stroke="#bdbdbd" d="M190.8,176.8 L192.5,172.4 L198.2,170.4 L197.6,173.8 L192.6,174.5 L189.8,178.2 L193.8,179.4 L195.7,183.3"/>
<path stroke="#ff1a1a" d="M188.6,177.5 L190.4,173.6 L194.3,172.9 L193.8,177.1 L191.0,177.2 L187.8,182.2 L190.8,186.0 L194.4,189.9"/>
<path stroke="#2323ff" d="M188.1,173.8 L190.5,169.7 L194.5,169.2 L195.3,173.9 L189.7,174.2 L188.4,177.7 L190.7,181.7 L193.0,184.2"/>
<path stroke="#2323ff" d="M73.0,162.2 L73.7,165.0 L74.6,170.0 L71.8,171.0 L67.5,171.2 L63.4,169.5 L60.3,165.5 L58.1,161.6"/>
<path stroke="#ff1a1a" d="M65.8,163.5 L66.4,167.3 L68.8,172.9 L65.4,174.6 L60.3,175.1 L57.7,173.4 L54.3,171.1 L51.2,167.0"/>
<path stroke="#bdbdbd" d="M67.4,162.2 L67.0,165.4 L69.1,170.3 L65.8,173.9 L60.0,173.5 L56.1,171.8 L54.4,168.1 L51.1,165.4"/>
<path stroke="#bdbdbd" d="M144.4,187.3 L147.7,187.1 L149.8,183.9 L153.1,188.3 L156.9,187.9 L158.9,185.0 L161.6,187.5 L164.1,193.6"/>
<path stroke="#2323ff" d="M145.3,187.1 L150.3,188.8 L151.2,184.7 L152.8,188.0 L157.0,189.2 L162.3,184.5 L162.7,188.4 L164.8,191.2"/>
<path stroke="#ff1a1a" d="M144.5,188.8 L146.2,191.7 L148.9,188.5 L150.1,189.9 L155.4,191.5 L157.5,188.0 L159.4,190.4 L161.7,193.4"/>
<path stroke="#bdbdbd" d="M112.6,32.1 L108.2,33.7 L103.3,35.7 L108.9,38.5 L111.4,39.6 L103.9,42.8 L103.8,44.5 L110.1,46.7 L107.5,49.2 L101.4,50.5 L105.3,53.6 L110.2,55.7 L103.0,57.9 L100.5,60.3 L106.6,62.8 L106.0,65.0 L98.8,67.4"/>
<path stroke="#2323ff" d="M111.4,33.8 L108.0,35.7 L102.7,37.4 L107.5,40.3 L110.3,42.4 L103.8,44.3 L103.2,46.7 L110.5,49.1 L107.2,51.1 L101.4,53.8 L104.8,55.9 L109.3,57.6 L103.4,60.8 L100.6,62.2 L107.1,65.6 L107.1,67.4 L100.0,69.9"/>
<path stroke="#ff1a1a" d="M112.2,37.6 L107.7,39.6 L102.6,41.0 L108.3,44.2 L110.5,46.3 L104.1,48.6 L102.9,50.9 L110.1,53.2 L107.4,55.3 L100.1,57.5 L103.7,60.0 L109.1,61.8 L102.9,65.0 L99.4,66.3 L106.2,68.5 L106.2,70.3 L98.7,73.8"/>
<path stroke="#bdbdbd" d="M128.6,190.7 L127.5,194.2 L122.9,192.3 L118.8,194.9 L122.6,197.5 L120.4,201.6 L117.1,195.8 L118.0,191.4"/>
<path stroke="#2323ff" d="M121.3,190.4 L119.1,194.9 L117.2,192.8 L113.9,196.3 L116.3,199.9 L115.5,203.2 L112.9,201.2 L112.5,196.5"/>
<path stroke="#ff1a1a" d="M120.8,188.1 L118.4,190.3 L115.8,188.6 L110.7,191.9 L115.7,194.1 L113.0,199.1 L109.7,195.9 L111.0,192.1"/>
<path stroke="#2323ff" d="M132.5,39.1 L127.9,41.7 L126.2,43.8 L134.1,45.3 L134.7,47.9 L128.9,50.4 L131.3,52.5 L138.7,53.9 L135.2,56.4 L131.1,58.3 L137.8,60.8 L141.7,62.4 L135.5,64.8 L136.3,66.9 L143.4,69.0 L142.7,70.7 L137.2,74.3 L143.1,76.0 L148.0,77.7 L143.2,79.7 L141.8,82.2 L149.9,84.3"/>
<path stroke="#ff1a1a" d="M133.0,41.5 L127.6,44.3 L125.6,46.2 L134.1,47.9 L135.2,49.9 L129.3,52.2 L132.1,54.2 L138.9,55.9 L135.7,58.0 L132.4,60.8 L139.1,62.4 L142.5,64.6 L136.5,67.0 L137.9,68.9 L144.8,71.1 L143.9,72.9 L138.9,75.5 L144.1,78.2 L149.6,79.7 L144.7,82.0 L142.5,84.1 L150.6,86.4"/>
<path stroke="#bdbdbd" d="M132.5,37.1 L128.4,39.8 L126.4,41.6 L134.7,43.3 L136.0,45.2 L129.7,47.8 L132.5,49.5 L139.4,50.9 L136.6,53.3 L132.6,55.9 L140.0,57.5 L142.9,59.9 L137.1,62.0 L138.2,63.9 L145.9,65.3 L144.9,67.9 L139.6,70.2 L145.3,72.7 L149.8,74.4 L145.4,76.7 L143.5,79.3 L151.5,81.2"/>
<path stroke="#bdbdbd" d="M100.6,98.7 L104.1,100.6 L108.8,103.1 L102.3,105.5 L97.9,107.1 L104.7,109.9 L104.2,112.0 L96.9,114.5 L98.2,116.8 L103.7,119.0 L99.1,121.3"/>
<path stroke="#ff1a1a" d="M100.7,103.3 L104.9,105.9 L109.5,107.8 L102.7,110.3 L99.9,112.3 L105.6,114.5 L105.6,117.3 L98.0,119.2 L100.0,121.5 L105.5,123.8 L100.6,126.1"/>
<path stroke="#2323ff" d="M100.8,102.4 L104.5,104.1 L108.7,106.8 L102.7,109.1 L99.4,110.8 L105.3,114.0 L106.2,116.2 L98.5,118.3 L99.6,120.8 L105.0,122.7 L100.9,124.9"/>
<path stroke="#bdbdbd" d="M85.1,146.7 L84.8,149.6 L76.6,150.7 L77.4,152.5 L82.2,154.9 L76.4,156.7 L70.6,158.1 L74.7,159.8 L76.9,162.3 L69.5,164.2 L66.4,166.1 L72.8,168.2 L70.0,170.3 L61.7,171.8 L65.4,174.1 L69.2,176.5"/>
<path stroke="#ff1a1a" d="M89.8,149.0 L89.9,150.7 L82.1,151.7 L81.7,154.8 L87.4,155.9 L82.4,158.5 L76.1,160.1 L80.7,162.7 L82.3,164.5 L74.8,165.7 L72.2,168.2 L77.7,170.4 L75.3,172.4 L66.7,173.7 L70.1,176.5 L73.3,178.2"/>
<path stroke="#2323ff" d="M88.2,148.7 L88.3,150.5 L80.1,152.3 L79.9,153.7 L85.2,156.6 L79.5,157.5 L73.6,158.8 L76.6,161.0 L79.2,163.5 L71.1,164.3 L69.4,166.4 L74.3,169.4 L72.0,170.6 L63.8,171.5 L66.7,174.2 L70.2,175.6"/>
<path stroke="#2323ff" d="M90.4,143.5 L93.7,142.3 L94.7,146.9 L99.2,146.7 L99.4,151.2 L95.2,150.5 L94.5,146.8 L90.8,147.3"/>
<path stroke="#ff1a1a" d="M92.5,144.6 L97.4,143.8 L97.7,147.8 L102.3,147.9 L102.5,152.5 L98.5,152.8 L97.8,148.1 L93.6,149.1"/>
<path stroke="#bdbdbd" d="M88.6,140.9 L91.9,140.1 L93.0,143.9 L97.8,144.5 L98.4,148.2 L93.8,148.6 L93.5,144.4 L88.8,145.1"/>
<path stroke="#bdbdbd" d="M70.1,139.2 L70.3,141.5 L62.2,143.1 L61.4,145.7 L67.9,147.7 L62.1,149.2 L55.6,150.8 L59.9,153.4 L62.3,155.2 L54.3,156.5 L51.9,158.6 L58.4,161.1 L55.2,162.8 L46.9,164.3 L49.8,166.5 L54.1,168.9"/>
<path stroke="#ff1a1a" d="M74.0,141.2 L73.6,143.8 L65.6,144.6 L65.0,147.0 L70.8,150.1 L65.5,151.1 L59.8,153.4 L63.7,155.4 L66.3,157.1 L59.0,158.9 L55.5,160.7 L62.0,163.3 L58.8,165.1 L50.8,166.9 L53.6,169.1 L58.1,171.4"/>
<path stroke="#2323ff" d="M72.4,138.8 L72.0,141.0 L64.0,142.4 L63.5,144.5 L68.9,147.3 L63.8,148.3 L57.0,149.8 L61.2,152.2 L63.9,154.2 L55.4,156.3 L52.6,158.0 L58.9,161.0 L55.8,162.3 L47.5,163.7 L50.0,166.0 L54.5,167.8"/>
<path stroke="#bdbdbd" d="M49.2,223.2 L51.7,220.9 L49.1,217.9 L54.0,216.4 L52.3,210.1 L51.8,206.9 L52.0,202.0 L56.2,200.5 L56.8,205.1 L60.1,209.3 L59.1,211.7 L65.0,213.3 L68.9,213.9 L73.3,210.7 L76.8,212.2 L78.5,216.9 L74.3,217.6 L74.2,223.1 L77.0,223.4 L82.1,222.9 L85.3,222.6 L90.1,221.1 L95.4,221.6 L97.8,217.7 L93.8,213.0 L89.2,213.1 L85.2,216.3 L82.3,213.5 L84.7,210.1 L83.6,207.2"/>
<path stroke="#2323ff" d="M47.6,221.4 L49.4,216.1 L48.4,212.3 L52.8,210.3 L51.2,205.7 L52.1,201.2 L51.2,197.8 L54.5,196.8 L55.7,200.3 L56.9,205.0 L59.9,208.7 L63.3,208.5 L68.9,210.5 L72.5,207.7 L76.4,208.4 L78.1,212.1 L76.4,215.7 L74.5,219.4 L79.8,219.7 L83.3,219.8 L87.2,219.6 L93.6,221.2 L97.5,219.7 L100.3,215.9 L96.4,213.6 L94.0,213.2 L90.5,216.3 L85.6,214.7 L88.6,212.0 L87.2,206.9"/>
<path stroke="#ff1a1a" d="M47.2,223.3 L49.8,219.2 L48.5,215.4 L53.1,214.1 L51.2,211.7 L52.4,206.6 L53.1,200.4 L55.6,200.3 L57.9,204.6 L58.0,207.4 L59.6,212.2 L64.6,213.3 L68.0,212.7 L72.7,211.9 L76.9,212.2 L78.2,215.5 L74.8,218.0 L73.0,222.2 L77.4,223.7 L82.0,221.0 L86.4,222.9 L89.6,222.9 L93.0,219.3 L97.6,217.6 L93.6,213.8 L87.2,214.7 L84.2,215.9 L81.0,214.9 L84.8,212.3 L82.4,207.2"/>
<path stroke="#2323ff" d="M64.7,153.4 L60.6,155.4 L57.2,152.9 L53.8,151.4 L57.3,150.6 L62.1,151.8 L65.4,149.8 L68.3,153.4"/>
<path stroke="#ff1a1a" d="M65.6,155.5 L61.4,157.1 L57.9,154.2 L54.2,153.1 L58.4,152.3 L62.4,152.7 L66.4,150.5 L68.8,153.4"/>
<path stroke="#bdbdbd" d="M62.5,153.1 L58.8,153.7 L55.7,151.9 L51.3,150.3 L55.6,149.7 L59.3,149.9 L63.2,147.8 L66.2,151.4"/>
<path stroke="#bdbdbd" d="M189.5,198.9 L192.1,196.7 L193.5,193.5 L191.9,188.0 L186.0,189.8 L185.7,186.5 L183.4,181.3 L182.4,179.3 L181.4,173.7 L181.4,169.9 L178.3,165.1 L172.4,167.6 L168.8,165.4 L163.0,164.7 L169.1,161.3 L163.3,157.1 L164.7,154.2 L169.4,154.6 L173.1,152.9 L174.7,156.8 L178.2,154.8 L184.3,153.2 L186.8,152.5 L188.7,154.9 L190.6,159.8 L194.4,163.2 L198.9,162.0 L201.6,158.4 L204.2,161.2 L205.8,168.1 L201.5,169.2"/>
<path stroke="#2323ff" d="M181.6,195.4 L183.4,193.1 L185.7,190.2 L185.3,183.6 L180.5,185.6 L180.1,181.7 L178.6,177.7 L178.1,173.6 L177.2,169.3 L177.5,163.4 L176.2,160.0 L171.3,163.5 L169.0,160.2 L163.6,161.0 L166.9,156.9 L165.9,155.6 L165.1,150.9 L168.9,150.2 L174.1,153.1 L177.0,156.4 L179.4,155.4 L183.8,154.1 L188.7,153.2 L187.8,158.0 L191.7,161.1 L192.8,166.2 L198.7,164.3 L202.2,163.3 L203.3,166.8 L202.3,172.3 L198.4,172.8"/>
<path stroke="#ff1a1a" d="M183.6,199.3 L186.7,195.1 L188.7,191.5 L188.4,186.7 L183.0,187.0 L183.9,183.8 L182.2,177.8 L179.8,175.4 L178.5,169.8 L178.9,164.6 L176.9,161.4 L172.8,162.7 L168.9,161.9 L162.6,159.3 L166.5,157.5 L163.0,154.3 L161.1,149.1 L166.2,150.3 L169.5,151.7 L171.0,156.0 L176.2,154.3 L179.9,154.0 L183.5,153.9 L182.7,158.1 L184.7,162.2 L187.0,166.6 L191.9,164.4 L195.9,164.6 L196.4,168.3 L196.8,172.7 L192.3,174.4"/>
<path stroke="#ff1a1a" d="M25.5,165.5 L31,163 L36,161 L41,161.6 L43,155 L43.5,146 L48,143"/>
</g>

<line x1="0" y1="0.5" x2="669" y2="0.5" stroke="#d2d2d2" stroke-width="1"/>
<line x1="0.5" y1="0" x2="0.5" y2="310" stroke="#b8b8b8" stroke-width="1"/>
<line x1="0" y1="309.5" x2="669" y2="309.5" stroke="#c4c4c4" stroke-width="1"/>
<line x1="668.5" y1="0" x2="668.5" y2="310" stroke="#d8d8d8" stroke-width="1"/>
<line x1="236.5" y1="0" x2="236.5" y2="310" stroke="#c0c0c0" stroke-width="1.1"/>
<line x1="236" y1="169.8" x2="669" y2="169.8" stroke="#b2b2b2" stroke-width="1.1"/>

<rect x="78.2" y="271.60" width="3.1" height="3.1" fill="#c0c0c0"/><text x="84.20" y="275.20" font-size="5.9" text-anchor="start" font-weight="normal" >Bovine Cryo-EM apo MRP1</text><rect x="78.2" y="280.70" width="3.1" height="3.1" fill="#4472c4"/><text x="84.20" y="284.30" font-size="5.9" text-anchor="start" font-weight="normal" >WT human MRP1</text><rect x="78.2" y="289.80" width="3.1" height="3.1" fill="#ff0000"/><text x="84.20" y="293.40" font-size="5.9" text-anchor="start" font-weight="normal" >F583A mutant human MRP1</text><text x="14.00" y="20.00" font-size="11" text-anchor="start" font-weight="bold" >a</text>
<text x="251.00" y="20.10" font-size="11" text-anchor="start" font-weight="bold" >b</text><text x="300.20" y="136.80" font-size="7.6" text-anchor="end" font-weight="normal" >0</text><text x="300.20" y="126.37" font-size="7.6" text-anchor="end" font-weight="normal" >10</text><text x="300.20" y="115.94" font-size="7.6" text-anchor="end" font-weight="normal" >20</text><text x="300.20" y="105.51" font-size="7.6" text-anchor="end" font-weight="normal" >30</text><text x="300.20" y="95.08" font-size="7.6" text-anchor="end" font-weight="normal" >40</text><text x="300.20" y="84.65" font-size="7.6" text-anchor="end" font-weight="normal" >50</text><text x="300.20" y="74.22" font-size="7.6" text-anchor="end" font-weight="normal" >60</text><text x="300.20" y="63.79" font-size="7.6" text-anchor="end" font-weight="normal" >70</text><text x="300.20" y="53.36" font-size="7.6" text-anchor="end" font-weight="normal" >80</text><text x="300.20" y="42.93" font-size="7.6" text-anchor="end" font-weight="normal" >90</text><text x="300.20" y="32.50" font-size="7.6" text-anchor="end" font-weight="normal" >100</text><text x="0.00" y="0.00" font-size="8" text-anchor="middle" font-weight="normal" transform="translate(287.3,82) rotate(-90)">% of conformations</text><rect x="319.70" y="36.35" width="18.2" height="98.15" fill="#4472c4"/><rect x="342.20" y="100.81" width="18.2" height="33.69" fill="#ff0000"/><text x="339.70" y="144.90" font-size="7.6" text-anchor="middle" font-weight="normal" >1</text><rect x="388.00" y="129.18" width="18.2" height="5.32" fill="#4472c4"/><rect x="410.50" y="109.99" width="18.2" height="24.51" fill="#ff0000"/><text x="408.00" y="144.90" font-size="7.6" text-anchor="middle" font-weight="normal" >2</text><rect x="456.30" y="133.09" width="18.2" height="1.41" fill="#4472c4"/><rect x="478.80" y="113.85" width="18.2" height="20.65" fill="#ff0000"/><text x="476.30" y="144.90" font-size="7.6" text-anchor="middle" font-weight="normal" >3</text><rect x="547.10" y="114.89" width="18.2" height="19.61" fill="#ff0000"/><text x="544.60" y="144.90" font-size="7.6" text-anchor="middle" font-weight="normal" >4</text><rect x="615.40" y="131.89" width="18.2" height="2.61" fill="#ff0000"/><text x="612.90" y="144.90" font-size="7.6" text-anchor="middle" font-weight="normal" >5</text><text x="476.50" y="155.20" font-size="8" text-anchor="middle" font-weight="normal" >Cluster #</text><rect x="426" y="16.2" width="3.3" height="3.3" fill="#4472c4"/><text x="431.20" y="20.10" font-size="8" text-anchor="start" font-weight="normal" >WT</text><rect x="451" y="16.2" width="3.3" height="3.3" fill="#ff0000"/><text x="456.40" y="20.10" font-size="8" text-anchor="start" font-weight="normal" >F583A mutant</text>
<text x="251.40" y="190.90" font-size="11" text-anchor="start" font-weight="bold" >c</text><text x="291.20" y="283.20" font-size="7.6" text-anchor="end" font-weight="normal" >0</text><text x="291.20" y="276.35" font-size="7.6" text-anchor="end" font-weight="normal" >1</text><text x="291.20" y="269.50" font-size="7.6" text-anchor="end" font-weight="normal" >2</text><text x="291.20" y="262.65" font-size="7.6" text-anchor="end" font-weight="normal" >3</text><text x="291.20" y="255.80" font-size="7.6" text-anchor="end" font-weight="normal" >4</text><text x="291.20" y="248.95" font-size="7.6" text-anchor="end" font-weight="normal" >5</text><text x="291.20" y="242.10" font-size="7.6" text-anchor="end" font-weight="normal" >6</text><text x="291.20" y="235.25" font-size="7.6" text-anchor="end" font-weight="normal" >7</text><text x="291.20" y="228.40" font-size="7.6" text-anchor="end" font-weight="normal" >8</text><text x="291.20" y="221.55" font-size="7.6" text-anchor="end" font-weight="normal" >9</text><text x="291.20" y="214.70" font-size="7.6" text-anchor="end" font-weight="normal" >10</text><text x="291.20" y="207.85" font-size="7.6" text-anchor="end" font-weight="normal" >11</text><text x="291.20" y="201.00" font-size="7.6" text-anchor="end" font-weight="normal" >12</text><text x="296.60" y="291.60" font-size="7.6" text-anchor="middle" font-weight="normal" >20</text><text x="315.73" y="291.60" font-size="7.6" text-anchor="middle" font-weight="normal" >30</text><text x="334.85" y="291.60" font-size="7.6" text-anchor="middle" font-weight="normal" >40</text><text x="353.98" y="291.60" font-size="7.6" text-anchor="middle" font-weight="normal" >50</text><text x="373.10" y="291.60" font-size="7.6" text-anchor="middle" font-weight="normal" >60</text><text x="392.23" y="291.60" font-size="7.6" text-anchor="middle" font-weight="normal" >70</text><text x="411.35" y="291.60" font-size="7.6" text-anchor="middle" font-weight="normal" >80</text><text x="430.48" y="291.60" font-size="7.6" text-anchor="middle" font-weight="normal" >90</text><text x="449.60" y="291.60" font-size="7.6" text-anchor="middle" font-weight="normal" >100</text><text x="372.60" y="302.00" font-size="8" text-anchor="middle" font-weight="normal" >Time (ns)</text><text x="0.00" y="0.00" font-size="8" text-anchor="middle" font-weight="normal" transform="translate(280.8,240) rotate(-90)">Cluster #</text><circle cx="357.9" cy="187.1" r="1.15" fill="#4472c4"/><text x="362.10" y="189.80" font-size="8" text-anchor="start" font-weight="normal" >WT</text><rect x="295.25" y="273.17" width="2.7" height="2.7" rx="1.1" fill="#4472c4"/><rect x="302.71" y="273.22" width="146.71" height="2.6" rx="1.0" fill="#4472c4"/><rect x="296.02" y="266.39" width="12.83" height="2.6" rx="1.0" fill="#4472c4"/><rect x="336.94" y="259.51" width="2.7" height="2.7" rx="1.1" fill="#4472c4"/><rect x="354.54" y="259.51" width="2.7" height="2.7" rx="1.1" fill="#4472c4"/><rect x="397.95" y="259.51" width="2.7" height="2.7" rx="1.1" fill="#4472c4"/><rect x="433.34" y="259.56" width="5.56" height="2.6" rx="1.0" fill="#4472c4"/><rect x="442.90" y="259.56" width="2.31" height="2.6" rx="1.0" fill="#4472c4"/><rect x="447.10" y="259.51" width="2.7" height="2.7" rx="1.1" fill="#4472c4"/><text x="484.00" y="283.20" font-size="7.6" text-anchor="end" font-weight="normal" >0</text><text x="484.00" y="276.35" font-size="7.6" text-anchor="end" font-weight="normal" >1</text><text x="484.00" y="269.50" font-size="7.6" text-anchor="end" font-weight="normal" >2</text><text x="484.00" y="262.65" font-size="7.6" text-anchor="end" font-weight="normal" >3</text><text x="484.00" y="255.80" font-size="7.6" text-anchor="end" font-weight="normal" >4</text><text x="484.00" y="248.95" font-size="7.6" text-anchor="end" font-weight="normal" >5</text><text x="484.00" y="242.10" font-size="7.6" text-anchor="end" font-weight="normal" >6</text><text x="484.00" y="235.25" font-size="7.6" text-anchor="end" font-weight="normal" >7</text><text x="484.00" y="228.40" font-size="7.6" text-anchor="end" font-weight="normal" >8</text><text x="484.00" y="221.55" font-size="7.6" text-anchor="end" font-weight="normal" >9</text><text x="484.00" y="214.70" font-size="7.6" text-anchor="end" font-weight="normal" >10</text><text x="484.00" y="207.85" font-size="7.6" text-anchor="end" font-weight="normal" >11</text><text x="484.00" y="201.00" font-size="7.6" text-anchor="end" font-weight="normal" >12</text><text x="489.40" y="291.60" font-size="7.6" text-anchor="middle" font-weight="normal" >20</text><text x="508.52" y="291.60" font-size="7.6" text-anchor="middle" font-weight="normal" >30</text><text x="527.65" y="291.60" font-size="7.6" text-anchor="middle" font-weight="normal" >40</text><text x="546.77" y="291.60" font-size="7.6" text-anchor="middle" font-weight="normal" >50</text><text x="565.90" y="291.60" font-size="7.6" text-anchor="middle" font-weight="normal" >60</text><text x="585.02" y="291.60" font-size="7.6" text-anchor="middle" font-weight="normal" >70</text><text x="604.15" y="291.60" font-size="7.6" text-anchor="middle" font-weight="normal" >80</text><text x="623.27" y="291.60" font-size="7.6" text-anchor="middle" font-weight="normal" >90</text><text x="642.40" y="291.60" font-size="7.6" text-anchor="middle" font-weight="normal" >100</text><text x="565.40" y="302.00" font-size="8" text-anchor="middle" font-weight="normal" >Time (ns)</text><text x="0.00" y="0.00" font-size="8" text-anchor="middle" font-weight="normal" transform="translate(472.6,240) rotate(-90)">Cluster #</text><circle cx="533.4" cy="187.1" r="1.15" fill="#ff0000"/><text x="537.60" y="189.80" font-size="8" text-anchor="start" font-weight="normal" >F583A mutant</text><rect x="488.80" y="259.56" width="35.80" height="2.6" rx="1.0" fill="#ff0000"/><rect x="505.60" y="273.22" width="5.10" height="2.6" rx="1.0" fill="#ff0000"/><rect x="520.30" y="273.22" width="51.50" height="2.6" rx="1.0" fill="#ff0000"/><rect x="577.60" y="273.22" width="7.00" height="2.6" rx="1.0" fill="#ff0000"/><rect x="560.05" y="266.34" width="2.7" height="2.7" rx="1.1" fill="#ff0000"/><rect x="568.80" y="266.39" width="42.90" height="2.6" rx="1.0" fill="#ff0000"/><rect x="615.70" y="266.39" width="4.00" height="2.6" rx="1.0" fill="#ff0000"/><rect x="610.40" y="252.73" width="32.00" height="2.6" rx="1.0" fill="#ff0000"/><rect x="574.15" y="245.85" width="2.7" height="2.7" rx="1.1" fill="#ff0000"/><rect x="588.20" y="245.90" width="18.20" height="2.6" rx="1.0" fill="#ff0000"/><rect x="567.85" y="239.02" width="2.7" height="2.7" rx="1.1" fill="#ff0000"/><rect x="609.50" y="239.07" width="7.50" height="2.6" rx="1.0" fill="#ff0000"/><rect x="618.45" y="239.02" width="2.7" height="2.7" rx="1.1" fill="#ff0000"/><rect x="530.10" y="232.24" width="4.80" height="2.6" rx="1.0" fill="#ff0000"/><rect x="555.25" y="232.19" width="2.7" height="2.7" rx="1.1" fill="#ff0000"/><rect x="566.40" y="232.24" width="3.60" height="2.6" rx="1.0" fill="#ff0000"/><rect x="581.75" y="232.19" width="2.7" height="2.7" rx="1.1" fill="#ff0000"/><rect x="488.80" y="225.41" width="3.80" height="2.6" rx="1.0" fill="#ff0000"/><rect x="494.95" y="225.36" width="2.7" height="2.7" rx="1.1" fill="#ff0000"/><rect x="504.95" y="225.36" width="2.7" height="2.7" rx="1.1" fill="#ff0000"/><rect x="638.30" y="218.58" width="3.80" height="2.6" rx="1.0" fill="#ff0000"/><rect x="523.85" y="211.70" width="2.7" height="2.7" rx="1.1" fill="#ff0000"/><rect x="532.35" y="211.70" width="2.7" height="2.7" rx="1.1" fill="#ff0000"/><rect x="610.05" y="204.87" width="2.7" height="2.7" rx="1.1" fill="#ff0000"/>
</svg></body></html>
